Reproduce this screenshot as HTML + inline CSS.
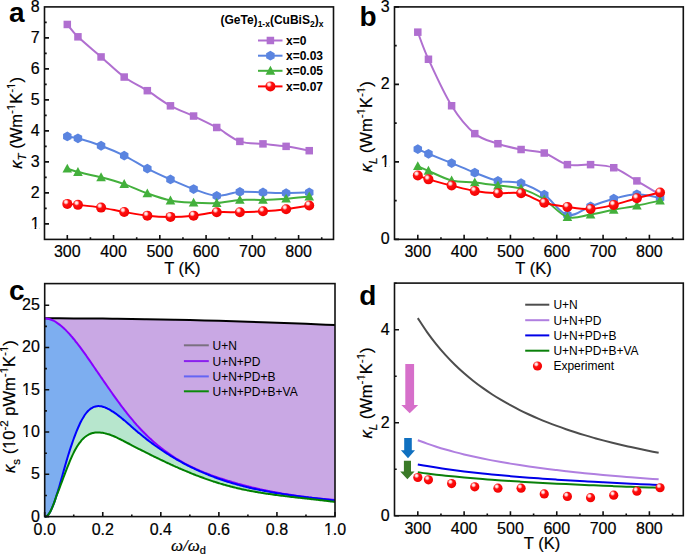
<!DOCTYPE html>
<html><head><meta charset="utf-8"><style>
html,body{margin:0;padding:0;background:#fff;}
svg{display:block;}
text{font-family:"Liberation Sans",sans-serif;fill:#000;}
.h{stroke:#000;stroke-width:0.2px;}
</style></head><body>
<svg width="685" height="555" viewBox="0 0 685 555">
<defs>
<radialGradient id="gball" cx="0.38" cy="0.33" r="0.7" fx="0.36" fy="0.3">
<stop offset="0" stop-color="#ffffff"/>
<stop offset="0.18" stop-color="#ffd0d0"/>
<stop offset="0.4" stop-color="#ff1010"/>
<stop offset="1" stop-color="#f00000"/>
</radialGradient>
</defs>
<rect width="685" height="555" fill="#fff"/>
<g>
<path d="M67.3,239.4 V234.9 M113.56,239.4 V234.9 M159.82,239.4 V234.9 M206.08,239.4 V234.9 M252.34,239.4 V234.9 M298.6,239.4 V234.9 M90.43,239.4 V237.2 M136.69,239.4 V237.2 M182.95,239.4 V237.2 M229.21,239.4 V237.2 M275.47,239.4 V237.2 M321.73,239.4 V237.2 M44.5,223.9 H49 M44.5,192.9 H49 M44.5,161.9 H49 M44.5,130.9 H49 M44.5,99.9 H49 M44.5,68.9 H49 M44.5,37.9 H49 M44.5,208.4 H46.7 M44.5,177.4 H46.7 M44.5,146.4 H46.7 M44.5,115.4 H46.7 M44.5,84.4 H46.7 M44.5,53.4 H46.7 M44.5,22.4 H46.7" stroke="#111" stroke-width="1.6" fill="none"/>
<rect x="44.5" y="6.9" width="289" height="232.5" fill="none" stroke="#111" stroke-width="1.6"/>
<text x="67.3" y="256.9" font-size="16" text-anchor="middle" font-weight="normal"  class="h">300</text>
<text x="113.56" y="256.9" font-size="16" text-anchor="middle" font-weight="normal"  class="h">400</text>
<text x="159.82" y="256.9" font-size="16" text-anchor="middle" font-weight="normal"  class="h">500</text>
<text x="206.08" y="256.9" font-size="16" text-anchor="middle" font-weight="normal"  class="h">600</text>
<text x="252.34" y="256.9" font-size="16" text-anchor="middle" font-weight="normal"  class="h">700</text>
<text x="298.6" y="256.9" font-size="16" text-anchor="middle" font-weight="normal"  class="h">800</text>
<text x="39.6" y="228.9" font-size="16" text-anchor="end" font-weight="normal"  class="h">1</text>
<text x="39.6" y="197.9" font-size="16" text-anchor="end" font-weight="normal"  class="h">2</text>
<text x="39.6" y="166.9" font-size="16" text-anchor="end" font-weight="normal"  class="h">3</text>
<text x="39.6" y="135.9" font-size="16" text-anchor="end" font-weight="normal"  class="h">4</text>
<text x="39.6" y="104.9" font-size="16" text-anchor="end" font-weight="normal"  class="h">5</text>
<text x="39.6" y="73.9" font-size="16" text-anchor="end" font-weight="normal"  class="h">6</text>
<text x="39.6" y="42.9" font-size="16" text-anchor="end" font-weight="normal"  class="h">7</text>
<text x="39.6" y="11.9" font-size="16" text-anchor="end" font-weight="normal"  class="h">8</text>
<path d="M67.3,24.46 C69.07,26.52 72.31,31.42 77.94,36.83 C83.57,42.25 93.36,50.24 101.07,56.94 C108.78,63.65 116.49,71.43 124.2,77.05 C131.91,82.67 139.62,85.87 147.33,90.67 C155.04,95.46 162.75,101.6 170.46,105.83 C178.17,110.06 185.88,112.43 193.59,116.04 C201.3,119.65 209.01,123.26 216.72,127.49 C224.43,131.71 232.14,138.68 239.85,141.41 C247.56,144.14 255.27,143.06 262.98,143.88 C270.69,144.71 278.4,145.22 286.11,146.36 C293.82,147.49 305.38,149.97 309.24,150.69" fill="none" stroke="#b06fd0" stroke-width="2.0" stroke-linejoin="round"/>
<rect x="63.55" y="20.71" width="7.5" height="7.5" fill="#b06fd0"/>
<rect x="74.19" y="33.08" width="7.5" height="7.5" fill="#b06fd0"/>
<rect x="97.32" y="53.19" width="7.5" height="7.5" fill="#b06fd0"/>
<rect x="120.45" y="73.3" width="7.5" height="7.5" fill="#b06fd0"/>
<rect x="143.58" y="86.92" width="7.5" height="7.5" fill="#b06fd0"/>
<rect x="166.71" y="102.08" width="7.5" height="7.5" fill="#b06fd0"/>
<rect x="189.84" y="112.29" width="7.5" height="7.5" fill="#b06fd0"/>
<rect x="212.97" y="123.74" width="7.5" height="7.5" fill="#b06fd0"/>
<rect x="236.1" y="137.66" width="7.5" height="7.5" fill="#b06fd0"/>
<rect x="259.23" y="140.13" width="7.5" height="7.5" fill="#b06fd0"/>
<rect x="282.36" y="142.61" width="7.5" height="7.5" fill="#b06fd0"/>
<rect x="305.49" y="146.94" width="7.5" height="7.5" fill="#b06fd0"/>
<path d="M67.3,136.46 C69.07,136.77 72.31,136.77 77.94,138.31 C83.57,139.86 93.36,142.85 101.07,145.74 C108.78,148.63 116.49,151.83 124.2,155.64 C131.91,159.46 139.62,164.67 147.33,168.64 C155.04,172.61 162.75,176.06 170.46,179.47 C178.17,182.87 185.88,186.32 193.59,189.06 C201.3,191.79 209.01,195.4 216.72,195.86 C224.43,196.33 232.14,192.41 239.85,191.84 C247.56,191.27 255.27,192.25 262.98,192.46 C270.69,192.67 278.4,193.08 286.11,193.08 C293.82,193.08 305.38,192.56 309.24,192.46" fill="none" stroke="#5a84e0" stroke-width="2.0" stroke-linejoin="round"/>
<polygon points="67.3,131.56 71.54,134.01 71.54,138.91 67.3,141.36 63.06,138.91 63.06,134.01" fill="#5a84e0"/>
<polygon points="77.94,133.41 82.18,135.87 82.18,140.76 77.94,143.22 73.7,140.76 73.7,135.87" fill="#5a84e0"/>
<polygon points="101.07,140.84 105.31,143.29 105.31,148.19 101.07,150.64 96.83,148.19 96.83,143.29" fill="#5a84e0"/>
<polygon points="124.2,150.74 128.44,153.19 128.44,158.09 124.2,160.54 119.96,158.09 119.96,153.19" fill="#5a84e0"/>
<polygon points="147.33,163.74 151.57,166.19 151.57,171.09 147.33,173.54 143.09,171.09 143.09,166.19" fill="#5a84e0"/>
<polygon points="170.46,174.57 174.7,177.02 174.7,181.92 170.46,184.37 166.22,181.92 166.22,177.02" fill="#5a84e0"/>
<polygon points="193.59,184.16 197.83,186.61 197.83,191.51 193.59,193.96 189.35,191.51 189.35,186.61" fill="#5a84e0"/>
<polygon points="216.72,190.96 220.96,193.41 220.96,198.31 216.72,200.76 212.48,198.31 212.48,193.41" fill="#5a84e0"/>
<polygon points="239.85,186.94 244.09,189.39 244.09,194.29 239.85,196.74 235.61,194.29 235.61,189.39" fill="#5a84e0"/>
<polygon points="262.98,187.56 267.22,190.01 267.22,194.91 262.98,197.36 258.74,194.91 258.74,190.01" fill="#5a84e0"/>
<polygon points="286.11,188.18 290.35,190.63 290.35,195.53 286.11,197.98 281.87,195.53 281.87,190.63" fill="#5a84e0"/>
<polygon points="309.24,187.56 313.48,190.01 313.48,194.91 309.24,197.36 305,194.91 305,190.01" fill="#5a84e0"/>
<path d="M67.3,168.64 C69.07,169.2 72.31,170.6 77.94,172.04 C83.57,173.48 93.36,175.29 101.07,177.3 C108.78,179.31 116.49,181.42 124.2,184.11 C131.91,186.79 139.62,190.66 147.33,193.39 C155.04,196.12 162.75,198.96 170.46,200.5 C178.17,202.05 185.88,202.26 193.59,202.67 C201.3,203.08 209.01,203.44 216.72,202.98 C224.43,202.52 232.14,200.4 239.85,199.89 C247.56,199.37 255.27,200.09 262.98,199.89 C270.69,199.68 278.4,199.22 286.11,198.65 C293.82,198.08 305.38,196.84 309.24,196.48" fill="none" stroke="#43b03c" stroke-width="2.0" stroke-linejoin="round"/>
<polygon points="67.3,163.64 62.5,172.54 72.1,172.54" fill="#43b03c"/>
<polygon points="77.94,167.04 73.14,175.94 82.74,175.94" fill="#43b03c"/>
<polygon points="101.07,172.3 96.27,181.2 105.87,181.2" fill="#43b03c"/>
<polygon points="124.2,179.11 119.4,188.01 129,188.01" fill="#43b03c"/>
<polygon points="147.33,188.39 142.53,197.29 152.13,197.29" fill="#43b03c"/>
<polygon points="170.46,195.5 165.66,204.4 175.26,204.4" fill="#43b03c"/>
<polygon points="193.59,197.67 188.79,206.57 198.39,206.57" fill="#43b03c"/>
<polygon points="216.72,197.98 211.92,206.88 221.52,206.88" fill="#43b03c"/>
<polygon points="239.85,194.89 235.05,203.79 244.65,203.79" fill="#43b03c"/>
<polygon points="262.98,194.89 258.18,203.79 267.78,203.79" fill="#43b03c"/>
<polygon points="286.11,193.65 281.31,202.55 290.91,202.55" fill="#43b03c"/>
<polygon points="309.24,191.48 304.44,200.38 314.04,200.38" fill="#43b03c"/>
<path d="M67.3,203.91 C69.07,204.06 72.31,204.22 77.94,204.84 C83.57,205.45 93.36,206.43 101.07,207.62 C108.78,208.81 116.49,210.61 124.2,211.95 C131.91,213.29 139.62,214.84 147.33,215.66 C155.04,216.49 162.75,216.9 170.46,216.9 C178.17,216.9 185.88,216.44 193.59,215.66 C201.3,214.89 209.01,212.83 216.72,212.26 C224.43,211.69 232.14,212.42 239.85,212.26 C247.56,212.11 255.27,211.85 262.98,211.33 C270.69,210.82 278.4,210.15 286.11,209.17 C293.82,208.19 305.38,206.07 309.24,205.45" fill="none" stroke="#ff0000" stroke-width="2.0" stroke-linejoin="round"/>
<circle cx="67.3" cy="203.91" r="5" fill="url(#gball)"/>
<circle cx="77.94" cy="204.84" r="5" fill="url(#gball)"/>
<circle cx="101.07" cy="207.62" r="5" fill="url(#gball)"/>
<circle cx="124.2" cy="211.95" r="5" fill="url(#gball)"/>
<circle cx="147.33" cy="215.66" r="5" fill="url(#gball)"/>
<circle cx="170.46" cy="216.9" r="5" fill="url(#gball)"/>
<circle cx="193.59" cy="215.66" r="5" fill="url(#gball)"/>
<circle cx="216.72" cy="212.26" r="5" fill="url(#gball)"/>
<circle cx="239.85" cy="212.26" r="5" fill="url(#gball)"/>
<circle cx="262.98" cy="211.33" r="5" fill="url(#gball)"/>
<circle cx="286.11" cy="209.17" r="5" fill="url(#gball)"/>
<circle cx="309.24" cy="205.45" r="5" fill="url(#gball)"/>
</g>
<path d="M417.8,239.35 V234.85 M464.12,239.35 V234.85 M510.44,239.35 V234.85 M556.76,239.35 V234.85 M603.08,239.35 V234.85 M649.4,239.35 V234.85 M440.96,239.35 V237.15 M487.28,239.35 V237.15 M533.6,239.35 V237.15 M579.92,239.35 V237.15 M626.24,239.35 V237.15 M672.56,239.35 V237.15 M394.5,239.35 H399 M394.5,161.87 H399 M394.5,84.39 H399 M394.5,6.91 H399 M394.5,200.61 H396.7 M394.5,123.13 H396.7 M394.5,45.65 H396.7" stroke="#111" stroke-width="1.6" fill="none"/>
<rect x="394.5" y="6.9" width="288.8" height="232.45" fill="none" stroke="#111" stroke-width="1.6"/>
<text x="417.8" y="256.9" font-size="16" text-anchor="middle" font-weight="normal"  class="h">300</text>
<text x="464.12" y="256.9" font-size="16" text-anchor="middle" font-weight="normal"  class="h">400</text>
<text x="510.44" y="256.9" font-size="16" text-anchor="middle" font-weight="normal"  class="h">500</text>
<text x="556.76" y="256.9" font-size="16" text-anchor="middle" font-weight="normal"  class="h">600</text>
<text x="603.08" y="256.9" font-size="16" text-anchor="middle" font-weight="normal"  class="h">700</text>
<text x="649.4" y="256.9" font-size="16" text-anchor="middle" font-weight="normal"  class="h">800</text>
<text x="389.6" y="244.35" font-size="16" text-anchor="end" font-weight="normal"  class="h">0</text>
<text x="389.6" y="166.87" font-size="16" text-anchor="end" font-weight="normal"  class="h">1</text>
<text x="389.6" y="89.39" font-size="16" text-anchor="end" font-weight="normal"  class="h">2</text>
<text x="389.6" y="11.91" font-size="16" text-anchor="end" font-weight="normal"  class="h">3</text>
<path d="M417.8,32.16 C419.58,36.67 422.82,47 428.45,59.27 C434.09,71.54 443.89,93.36 451.61,105.75 C459.33,118.15 467.05,127.31 474.77,133.64 C482.49,139.97 490.21,141.07 497.93,143.71 C505.65,146.36 513.37,147.97 521.09,149.52 C528.81,151.07 536.53,150.49 544.25,153.01 C551.97,155.53 559.69,162.69 567.41,164.63 C575.13,166.57 582.85,164.11 590.57,164.63 C598.29,165.15 606.01,165.02 613.73,167.73 C621.45,170.44 629.17,176.38 636.89,180.9 C644.61,185.42 656.19,192.52 660.05,194.84" fill="none" stroke="#b06fd0" stroke-width="2.0" stroke-linejoin="round"/>
<rect x="414.05" y="28.41" width="7.5" height="7.5" fill="#b06fd0"/>
<rect x="424.7" y="55.52" width="7.5" height="7.5" fill="#b06fd0"/>
<rect x="447.86" y="102" width="7.5" height="7.5" fill="#b06fd0"/>
<rect x="471.02" y="129.89" width="7.5" height="7.5" fill="#b06fd0"/>
<rect x="494.18" y="139.96" width="7.5" height="7.5" fill="#b06fd0"/>
<rect x="517.34" y="145.77" width="7.5" height="7.5" fill="#b06fd0"/>
<rect x="540.5" y="149.26" width="7.5" height="7.5" fill="#b06fd0"/>
<rect x="563.66" y="160.88" width="7.5" height="7.5" fill="#b06fd0"/>
<rect x="586.82" y="160.88" width="7.5" height="7.5" fill="#b06fd0"/>
<rect x="609.98" y="163.98" width="7.5" height="7.5" fill="#b06fd0"/>
<rect x="633.14" y="177.15" width="7.5" height="7.5" fill="#b06fd0"/>
<rect x="656.3" y="191.09" width="7.5" height="7.5" fill="#b06fd0"/>
<path d="M417.8,149.13 C419.58,149.91 422.82,151.46 428.45,153.78 C434.09,156.11 443.89,159.93 451.61,163.08 C459.33,166.23 467.05,169.72 474.77,172.69 C482.49,175.66 490.21,179.14 497.93,180.9 C505.65,182.65 513.37,180.94 521.09,183.22 C528.81,185.51 536.53,189.32 544.25,194.61 C551.97,199.9 559.69,213.01 567.41,214.98 C575.13,216.96 582.85,209.17 590.57,206.46 C598.29,203.75 606.01,200.74 613.73,198.72 C621.45,196.69 629.17,194.43 636.89,194.3 C644.61,194.17 656.19,197.33 660.05,197.94" fill="none" stroke="#5a84e0" stroke-width="2.0" stroke-linejoin="round"/>
<polygon points="417.8,144.23 422.04,146.68 422.04,151.58 417.8,154.03 413.56,151.58 413.56,146.68" fill="#5a84e0"/>
<polygon points="428.45,148.88 432.7,151.33 432.7,156.23 428.45,158.68 424.21,156.23 424.21,151.33" fill="#5a84e0"/>
<polygon points="451.61,158.18 455.86,160.63 455.86,165.53 451.61,167.98 447.37,165.53 447.37,160.63" fill="#5a84e0"/>
<polygon points="474.77,167.79 479.02,170.24 479.02,175.14 474.77,177.59 470.53,175.14 470.53,170.24" fill="#5a84e0"/>
<polygon points="497.93,176 502.18,178.45 502.18,183.35 497.93,185.8 493.69,183.35 493.69,178.45" fill="#5a84e0"/>
<polygon points="521.09,178.32 525.34,180.77 525.34,185.67 521.09,188.12 516.85,185.67 516.85,180.77" fill="#5a84e0"/>
<polygon points="544.25,189.71 548.5,192.16 548.5,197.06 544.25,199.51 540.01,197.06 540.01,192.16" fill="#5a84e0"/>
<polygon points="567.41,210.08 571.66,212.53 571.66,217.43 567.41,219.88 563.17,217.43 563.17,212.53" fill="#5a84e0"/>
<polygon points="590.57,201.56 594.82,204.01 594.82,208.91 590.57,211.36 586.33,208.91 586.33,204.01" fill="#5a84e0"/>
<polygon points="613.73,193.82 617.98,196.27 617.98,201.17 613.73,203.62 609.49,201.17 609.49,196.27" fill="#5a84e0"/>
<polygon points="636.89,189.4 641.14,191.85 641.14,196.75 636.89,199.2 632.65,196.75 632.65,191.85" fill="#5a84e0"/>
<polygon points="660.05,193.04 664.3,195.49 664.3,200.39 660.05,202.84 655.81,200.39 655.81,195.49" fill="#5a84e0"/>
<path d="M417.8,166.18 C419.58,166.95 422.82,168.45 428.45,170.83 C434.09,173.2 443.89,178.5 451.61,180.43 C459.33,182.37 467.05,181.59 474.77,182.45 C482.49,183.3 490.21,184.51 497.93,185.55 C505.65,186.58 513.37,186.32 521.09,188.64 C528.81,190.97 536.53,194.75 544.25,199.49 C551.97,204.23 559.69,214.57 567.41,217.08 C575.13,219.58 582.85,215.73 590.57,214.52 C598.29,213.31 606.01,211.27 613.73,209.79 C621.45,208.32 629.17,207.21 636.89,205.69 C644.61,204.16 656.19,201.49 660.05,200.65" fill="none" stroke="#43b03c" stroke-width="2.0" stroke-linejoin="round"/>
<polygon points="417.8,161.18 413,170.08 422.6,170.08" fill="#43b03c"/>
<polygon points="428.45,165.83 423.65,174.73 433.25,174.73" fill="#43b03c"/>
<polygon points="451.61,175.43 446.81,184.33 456.41,184.33" fill="#43b03c"/>
<polygon points="474.77,177.45 469.97,186.35 479.57,186.35" fill="#43b03c"/>
<polygon points="497.93,180.55 493.13,189.45 502.73,189.45" fill="#43b03c"/>
<polygon points="521.09,183.64 516.29,192.54 525.89,192.54" fill="#43b03c"/>
<polygon points="544.25,194.49 539.45,203.39 549.05,203.39" fill="#43b03c"/>
<polygon points="567.41,212.08 562.61,220.98 572.21,220.98" fill="#43b03c"/>
<polygon points="590.57,209.52 585.77,218.42 595.37,218.42" fill="#43b03c"/>
<polygon points="613.73,204.79 608.93,213.69 618.53,213.69" fill="#43b03c"/>
<polygon points="636.89,200.69 632.09,209.59 641.69,209.59" fill="#43b03c"/>
<polygon points="660.05,195.65 655.25,204.55 664.85,204.55" fill="#43b03c"/>
<path d="M417.8,175.47 C419.58,176.12 422.82,177.67 428.45,179.35 C434.09,181.03 443.89,183.61 451.61,185.55 C459.33,187.48 467.05,189.68 474.77,190.97 C482.49,192.26 490.21,192.91 497.93,193.29 C505.65,193.68 513.37,191.7 521.09,193.29 C528.81,194.88 536.53,200.55 544.25,202.82 C551.97,205.09 559.69,205.89 567.41,206.93 C575.13,207.96 582.85,209.35 590.57,209.02 C598.29,208.68 606.01,206.72 613.73,204.91 C621.45,203.11 629.17,200.24 636.89,198.17 C644.61,196.11 656.19,193.46 660.05,192.52" fill="none" stroke="#ff0000" stroke-width="2.0" stroke-linejoin="round"/>
<circle cx="417.8" cy="175.47" r="5" fill="url(#gball)"/>
<circle cx="428.45" cy="179.35" r="5" fill="url(#gball)"/>
<circle cx="451.61" cy="185.55" r="5" fill="url(#gball)"/>
<circle cx="474.77" cy="190.97" r="5" fill="url(#gball)"/>
<circle cx="497.93" cy="193.29" r="5" fill="url(#gball)"/>
<circle cx="521.09" cy="193.29" r="5" fill="url(#gball)"/>
<circle cx="544.25" cy="202.82" r="5" fill="url(#gball)"/>
<circle cx="567.41" cy="206.93" r="5" fill="url(#gball)"/>
<circle cx="590.57" cy="209.02" r="5" fill="url(#gball)"/>
<circle cx="613.73" cy="204.91" r="5" fill="url(#gball)"/>
<circle cx="636.89" cy="198.17" r="5" fill="url(#gball)"/>
<circle cx="660.05" cy="192.52" r="5" fill="url(#gball)"/>
<path d="M44.7,318.31 C47.12,318.31 54.38,318.31 59.22,318.32 C64.05,318.34 68.89,318.35 73.73,318.38 C78.57,318.4 83.41,318.43 88.25,318.46 C93.08,318.5 97.92,318.54 102.76,318.59 C107.6,318.63 112.44,318.69 117.28,318.74 C122.11,318.8 126.95,318.87 131.79,318.93 C136.63,319 141.47,319.08 146.31,319.16 C151.14,319.24 155.98,319.33 160.82,319.42 C165.66,319.51 170.5,319.61 175.34,319.71 C180.17,319.82 185.01,319.93 189.85,320.04 C194.69,320.16 199.53,320.28 204.37,320.4 C209.2,320.53 214.04,320.66 218.88,320.8 C223.72,320.93 228.56,321.07 233.4,321.22 C238.23,321.37 243.07,321.52 247.91,321.68 C252.75,321.84 257.59,322 262.43,322.17 C267.26,322.34 272.1,322.51 276.94,322.69 C281.78,322.87 286.62,323.05 291.45,323.24 C296.29,323.43 301.13,323.62 305.97,323.82 C310.81,324.02 315.65,324.22 320.49,324.43 C325.32,324.64 332.58,324.96 335,325.07 L335,516.6 L44.7,516.6 Z" fill="#c9a8e4"/>
<path d="M44.7,318.3 C44.94,318.32 45.67,318.36 46.15,318.42 C46.64,318.48 47.12,318.56 47.6,318.66 C48.09,318.76 48.57,318.88 49.05,319.01 C49.54,319.15 50.02,319.3 50.51,319.48 C50.99,319.65 51.47,319.84 51.96,320.04 C52.44,320.25 52.93,320.48 53.41,320.72 C53.89,320.96 54.38,321.22 54.86,321.49 C55.34,321.76 55.83,322.06 56.31,322.36 C56.8,322.67 57.28,322.99 57.76,323.32 C58.25,323.66 58.73,324.01 59.22,324.37 C59.7,324.74 60.18,325.12 60.67,325.51 C61.15,325.9 61.63,326.31 62.12,326.73 C62.6,327.15 63.09,327.58 63.57,328.03 C64.05,328.47 64.54,328.93 65.02,329.4 C65.5,329.87 65.99,330.35 66.47,330.84 C66.96,331.33 67.44,331.84 67.92,332.35 C68.41,332.87 68.89,333.39 69.38,333.93 C69.86,334.46 70.34,335.01 70.83,335.56 C71.31,336.11 71.79,336.68 72.28,337.25 C72.76,337.82 73.25,338.41 73.73,339 C74.21,339.59 74.7,340.18 75.18,340.79 C75.67,341.4 76.15,342.01 76.63,342.63 C77.12,343.25 77.6,343.88 78.08,344.51 C78.57,345.15 79.05,345.79 79.54,346.44 C80.02,347.08 80.5,347.73 80.99,348.39 C81.47,349.05 81.96,349.71 82.44,350.38 C82.92,351.05 83.41,351.72 83.89,352.4 C84.37,353.07 84.86,353.75 85.34,354.44 C85.83,355.12 86.31,355.81 86.79,356.5 C87.28,357.19 87.76,357.88 88.25,358.58 C88.73,359.27 89.21,359.97 89.7,360.67 C90.18,361.37 90.66,362.07 91.15,362.77 C91.63,363.48 92.12,364.18 92.6,364.88 C93.08,365.59 93.57,366.29 94.05,367 C94.53,367.7 95.02,368.41 95.5,369.12 C95.99,369.82 96.47,370.53 96.95,371.24 C97.44,371.95 97.92,372.65 98.41,373.36 C98.89,374.07 99.37,374.77 99.86,375.48 C100.34,376.19 100.82,376.9 101.31,377.6 C101.79,378.31 102.28,379.01 102.76,379.72 C103.24,380.42 103.73,381.13 104.21,381.83 C104.7,382.53 105.18,383.23 105.66,383.93 C106.15,384.63 106.63,385.33 107.11,386.03 C107.6,386.73 108.08,387.43 108.57,388.12 C109.05,388.81 109.53,389.51 110.02,390.2 C110.5,390.89 110.99,391.58 111.47,392.27 C111.95,392.95 112.44,393.64 112.92,394.32 C113.4,395 113.89,395.68 114.37,396.36 C114.86,397.04 115.34,397.71 115.82,398.38 C116.31,399.05 116.79,399.72 117.28,400.39 C117.76,401.05 118.24,401.72 118.73,402.38 C119.21,403.03 119.69,403.69 120.18,404.34 C120.66,404.99 121.15,405.64 121.63,406.29 C122.11,406.93 122.6,407.57 123.08,408.21 C123.56,408.85 124.05,409.48 124.53,410.11 C125.02,410.74 125.5,411.36 125.98,411.98 C126.47,412.6 126.95,413.22 127.44,413.83 C127.92,414.44 128.4,415.05 128.89,415.65 C129.37,416.25 129.85,416.84 130.34,417.43 C130.82,418.03 131.31,418.61 131.79,419.19 C132.27,419.77 132.76,420.35 133.24,420.91 C133.73,421.48 134.21,422.05 134.69,422.6 C135.18,423.16 135.66,423.71 136.14,424.26 C136.63,424.81 137.11,425.35 137.6,425.88 C138.08,426.42 138.56,426.95 139.05,427.48 C139.53,428 140.02,428.52 140.5,429.03 C140.98,429.55 141.47,430.06 141.95,430.56 C142.43,431.07 142.92,431.56 143.4,432.06 C143.89,432.55 144.37,433.04 144.85,433.52 C145.34,434.01 145.82,434.48 146.31,434.96 C146.79,435.43 147.27,435.9 147.76,436.36 C148.24,436.83 148.72,437.29 149.21,437.74 C149.69,438.19 150.18,438.64 150.66,439.09 C151.14,439.53 151.63,439.97 152.11,440.4 C152.59,440.84 153.08,441.27 153.56,441.69 C154.05,442.12 154.53,442.54 155.01,442.96 C155.5,443.37 155.98,443.78 156.47,444.19 C156.95,444.6 157.43,445 157.92,445.4 C158.4,445.8 158.88,446.19 159.37,446.58 C159.85,446.97 160.34,447.36 160.82,447.74 C161.3,448.12 161.79,448.5 162.27,448.87 C162.76,449.24 163.24,449.61 163.72,449.97 C164.21,450.34 164.69,450.7 165.17,451.06 C165.66,451.41 166.14,451.76 166.63,452.11 C167.11,452.46 167.59,452.81 168.08,453.15 C168.56,453.49 169.05,453.82 169.53,454.16 C170.01,454.49 170.5,454.82 170.98,455.14 C171.46,455.47 171.95,455.79 172.43,456.11 C172.92,456.43 173.4,456.74 173.88,457.05 C174.37,457.36 174.85,457.67 175.34,457.97 C175.82,458.28 176.3,458.58 176.79,458.88 C177.27,459.17 177.75,459.47 178.24,459.76 C178.72,460.05 179.21,460.33 179.69,460.62 C180.17,460.9 180.66,461.18 181.14,461.46 C181.62,461.73 182.11,462.01 182.59,462.28 C183.08,462.55 183.56,462.82 184.04,463.08 C184.53,463.35 185.01,463.61 185.5,463.86 C185.98,464.12 186.46,464.38 186.95,464.63 C187.43,464.88 187.91,465.13 188.4,465.38 C188.88,465.63 189.37,465.87 189.85,466.11 C190.33,466.35 190.82,466.59 191.3,466.83 C191.79,467.06 192.27,467.3 192.75,467.53 C193.24,467.76 193.72,467.99 194.2,468.21 C194.69,468.44 195.17,468.66 195.66,468.88 C196.14,469.1 196.62,469.32 197.11,469.53 C197.59,469.75 198.08,469.96 198.56,470.17 C199.04,470.38 199.53,470.59 200.01,470.8 C200.49,471 200.98,471.21 201.46,471.41 C201.95,471.61 202.43,471.81 202.91,472.01 C203.4,472.21 203.88,472.4 204.37,472.6 C204.85,472.79 205.33,472.98 205.82,473.17 C206.3,473.36 206.78,473.55 207.27,473.73 C207.75,473.92 208.24,474.1 208.72,474.29 C209.2,474.47 209.69,474.65 210.17,474.83 C210.65,475.01 211.14,475.18 211.62,475.36 C212.11,475.53 212.59,475.71 213.07,475.88 C213.56,476.05 214.04,476.22 214.53,476.39 C215.01,476.56 215.49,476.73 215.98,476.89 C216.46,477.06 216.94,477.22 217.43,477.39 C217.91,477.55 218.4,477.71 218.88,477.87 C219.36,478.03 219.85,478.19 220.33,478.35 C220.82,478.51 221.3,478.67 221.78,478.82 C222.27,478.98 222.75,479.13 223.23,479.29 C223.72,479.44 224.2,479.59 224.69,479.74 C225.17,479.89 225.65,480.05 226.14,480.2 C226.62,480.34 227.11,480.49 227.59,480.64 C228.07,480.79 228.56,480.94 229.04,481.08 C229.52,481.23 230.01,481.37 230.49,481.52 C230.98,481.66 231.46,481.8 231.94,481.95 C232.43,482.09 232.91,482.23 233.4,482.37 C233.88,482.51 234.36,482.65 234.85,482.79 C235.33,482.92 235.81,483.06 236.3,483.2 C236.78,483.33 237.27,483.47 237.75,483.6 C238.23,483.74 238.72,483.87 239.2,484 C239.68,484.14 240.17,484.27 240.65,484.4 C241.14,484.53 241.62,484.66 242.1,484.79 C242.59,484.92 243.07,485.05 243.56,485.17 C244.04,485.3 244.52,485.43 245.01,485.55 C245.49,485.68 245.97,485.8 246.46,485.93 C246.94,486.05 247.43,486.17 247.91,486.29 C248.39,486.42 248.88,486.54 249.36,486.66 C249.85,486.78 250.33,486.9 250.81,487.02 C251.3,487.13 251.78,487.25 252.26,487.37 C252.75,487.48 253.23,487.6 253.72,487.72 C254.2,487.83 254.68,487.94 255.17,488.06 C255.65,488.17 256.14,488.28 256.62,488.39 C257.1,488.51 257.59,488.62 258.07,488.73 C258.55,488.84 259.04,488.94 259.52,489.05 C260.01,489.16 260.49,489.27 260.97,489.37 C261.46,489.48 261.94,489.59 262.43,489.69 C262.91,489.8 263.39,489.9 263.88,490 C264.36,490.11 264.84,490.21 265.33,490.31 C265.81,490.41 266.3,490.51 266.78,490.61 C267.26,490.71 267.75,490.81 268.23,490.91 C268.71,491.01 269.2,491.1 269.68,491.2 C270.17,491.3 270.65,491.39 271.13,491.49 C271.62,491.58 272.1,491.68 272.59,491.77 C273.07,491.87 273.55,491.96 274.04,492.05 C274.52,492.14 275,492.23 275.49,492.32 C275.97,492.41 276.46,492.5 276.94,492.59 C277.42,492.68 277.91,492.77 278.39,492.86 C278.88,492.94 279.36,493.03 279.84,493.12 C280.33,493.2 280.81,493.29 281.29,493.37 C281.78,493.46 282.26,493.54 282.75,493.62 C283.23,493.7 283.71,493.79 284.2,493.87 C284.68,493.95 285.17,494.03 285.65,494.11 C286.13,494.19 286.62,494.27 287.1,494.35 C287.58,494.42 288.07,494.5 288.55,494.58 C289.04,494.66 289.52,494.73 290,494.81 C290.49,494.88 290.97,494.96 291.45,495.03 C291.94,495.11 292.42,495.18 292.91,495.25 C293.39,495.33 293.87,495.4 294.36,495.47 C294.84,495.54 295.33,495.61 295.81,495.68 C296.29,495.75 296.78,495.82 297.26,495.89 C297.74,495.96 298.23,496.02 298.71,496.09 C299.2,496.16 299.68,496.22 300.16,496.29 C300.65,496.36 301.13,496.42 301.62,496.49 C302.1,496.55 302.58,496.61 303.07,496.68 C303.55,496.74 304.03,496.8 304.52,496.86 C305,496.93 305.49,496.99 305.97,497.05 C306.45,497.11 306.94,497.17 307.42,497.23 C307.91,497.29 308.39,497.34 308.87,497.4 C309.36,497.46 309.84,497.52 310.32,497.57 C310.81,497.63 311.29,497.69 311.78,497.74 C312.26,497.8 312.74,497.85 313.23,497.91 C313.71,497.96 314.2,498.01 314.68,498.07 C315.16,498.12 315.65,498.17 316.13,498.22 C316.61,498.28 317.1,498.33 317.58,498.38 C318.07,498.43 318.55,498.48 319.03,498.53 C319.52,498.58 320,498.62 320.49,498.67 C320.97,498.72 321.45,498.77 321.94,498.81 C322.42,498.86 322.9,498.91 323.39,498.95 C323.87,499 324.36,499.04 324.84,499.09 C325.32,499.13 325.81,499.18 326.29,499.22 C326.77,499.26 327.26,499.31 327.74,499.35 C328.23,499.39 328.71,499.43 329.19,499.47 C329.68,499.51 330.16,499.56 330.65,499.6 C331.13,499.64 331.61,499.68 332.1,499.71 C332.58,499.75 333.06,499.79 333.55,499.83 C334.03,499.87 334.76,499.92 335,499.94 L335,516.6 L44.7,516.6 Z" fill="#7daef0"/>
<path d="M44.7,516.6 C44.94,516.57 45.67,516.6 46.15,516.4 C46.64,516.2 47.12,515.85 47.6,515.39 C48.09,514.92 48.57,514.33 49.05,513.63 C49.54,512.94 50.02,512.12 50.51,511.21 C50.99,510.3 51.47,509.28 51.96,508.19 C52.44,507.1 52.93,505.9 53.41,504.65 C53.89,503.39 54.38,502.05 54.86,500.65 C55.34,499.26 55.83,497.79 56.31,496.28 C56.8,494.77 57.28,493.2 57.76,491.6 C58.25,490 58.73,488.35 59.22,486.69 C59.7,485.02 60.18,483.32 60.67,481.61 C61.15,479.9 61.63,478.17 62.12,476.45 C62.6,474.72 63.09,472.98 63.57,471.27 C64.05,469.55 64.54,467.83 65.02,466.14 C65.5,464.46 65.99,462.78 66.47,461.14 C66.96,459.5 67.44,457.89 67.92,456.3 C68.41,454.72 68.89,453.16 69.38,451.63 C69.86,450.11 70.34,448.61 70.83,447.14 C71.31,445.68 71.79,444.24 72.28,442.84 C72.76,441.44 73.25,440.07 73.73,438.74 C74.21,437.41 74.7,436.11 75.18,434.85 C75.67,433.59 76.15,432.36 76.63,431.17 C77.12,429.99 77.6,428.84 78.08,427.73 C78.57,426.62 79.05,425.55 79.54,424.52 C80.02,423.5 80.5,422.51 80.99,421.57 C81.47,420.63 81.96,419.72 82.44,418.87 C82.92,418.02 83.41,417.2 83.89,416.44 C84.37,415.68 84.86,414.96 85.34,414.29 C85.83,413.62 86.31,413 86.79,412.42 C87.28,411.85 87.76,411.32 88.25,410.83 C88.73,410.34 89.21,409.89 89.7,409.49 C90.18,409.08 90.66,408.72 91.15,408.39 C91.63,408.06 92.12,407.78 92.6,407.52 C93.08,407.27 93.57,407.05 94.05,406.87 C94.53,406.69 95.02,406.54 95.5,406.42 C95.99,406.3 96.47,406.21 96.95,406.16 C97.44,406.1 97.92,406.07 98.41,406.07 C98.89,406.06 99.37,406.09 99.86,406.13 C100.34,406.18 100.82,406.26 101.31,406.35 C101.79,406.44 102.28,406.56 102.76,406.7 C103.24,406.83 103.73,406.99 104.21,407.16 C104.7,407.33 105.18,407.52 105.66,407.73 C106.15,407.93 106.63,408.15 107.11,408.38 C107.6,408.62 108.08,408.86 108.57,409.12 C109.05,409.37 109.53,409.64 110.02,409.92 C110.5,410.19 110.99,410.48 111.47,410.78 C111.95,411.07 112.44,411.38 112.92,411.7 C113.4,412.01 113.89,412.34 114.37,412.67 C114.86,413 115.34,413.34 115.82,413.69 C116.31,414.03 116.79,414.39 117.28,414.75 C117.76,415.11 118.24,415.48 118.73,415.85 C119.21,416.23 119.69,416.61 120.18,416.99 C120.66,417.38 121.15,417.77 121.63,418.16 C122.11,418.56 122.6,418.96 123.08,419.36 C123.56,419.76 124.05,420.17 124.53,420.58 C125.02,420.99 125.5,421.4 125.98,421.82 C126.47,422.24 126.95,422.65 127.44,423.07 C127.92,423.49 128.4,423.92 128.89,424.34 C129.37,424.76 129.85,425.18 130.34,425.61 C130.82,426.03 131.31,426.46 131.79,426.88 C132.27,427.3 132.76,427.73 133.24,428.15 C133.73,428.57 134.21,428.99 134.69,429.41 C135.18,429.83 135.66,430.24 136.14,430.66 C136.63,431.07 137.11,431.48 137.6,431.89 C138.08,432.3 138.56,432.71 139.05,433.11 C139.53,433.52 140.02,433.92 140.5,434.31 C140.98,434.71 141.47,435.11 141.95,435.5 C142.43,435.89 142.92,436.28 143.4,436.67 C143.89,437.06 144.37,437.45 144.85,437.83 C145.34,438.21 145.82,438.59 146.31,438.97 C146.79,439.34 147.27,439.72 147.76,440.09 C148.24,440.46 148.72,440.83 149.21,441.2 C149.69,441.57 150.18,441.93 150.66,442.29 C151.14,442.66 151.63,443.02 152.11,443.37 C152.59,443.73 153.08,444.08 153.56,444.44 C154.05,444.79 154.53,445.14 155.01,445.48 C155.5,445.83 155.98,446.18 156.47,446.52 C156.95,446.86 157.43,447.2 157.92,447.54 C158.4,447.87 158.88,448.21 159.37,448.54 C159.85,448.87 160.34,449.21 160.82,449.53 C161.3,449.86 161.79,450.19 162.27,450.51 C162.76,450.83 163.24,451.15 163.72,451.47 C164.21,451.79 164.69,452.11 165.17,452.42 C165.66,452.73 166.14,453.04 166.63,453.35 C167.11,453.66 167.59,453.97 168.08,454.27 C168.56,454.58 169.05,454.88 169.53,455.18 C170.01,455.48 170.5,455.78 170.98,456.07 C171.46,456.37 171.95,456.66 172.43,456.95 C172.92,457.25 173.4,457.53 173.88,457.82 C174.37,458.11 174.85,458.39 175.34,458.68 C175.82,458.96 176.3,459.24 176.79,459.52 C177.27,459.79 177.75,460.07 178.24,460.34 C178.72,460.62 179.21,460.89 179.69,461.16 C180.17,461.43 180.66,461.7 181.14,461.96 C181.62,462.23 182.11,462.49 182.59,462.75 C183.08,463.01 183.56,463.27 184.04,463.53 C184.53,463.79 185.01,464.04 185.5,464.29 C185.98,464.55 186.46,464.8 186.95,465.05 C187.43,465.3 187.91,465.54 188.4,465.79 C188.88,466.03 189.37,466.28 189.85,466.52 C190.33,466.76 190.82,467 191.3,467.23 C191.79,467.47 192.27,467.71 192.75,467.94 C193.24,468.17 193.72,468.4 194.2,468.63 C194.69,468.86 195.17,469.09 195.66,469.32 C196.14,469.54 196.62,469.77 197.11,469.99 C197.59,470.21 198.08,470.43 198.56,470.65 C199.04,470.87 199.53,471.08 200.01,471.3 C200.49,471.51 200.98,471.73 201.46,471.94 C201.95,472.15 202.43,472.36 202.91,472.56 C203.4,472.77 203.88,472.98 204.37,473.18 C204.85,473.38 205.33,473.59 205.82,473.79 C206.3,473.99 206.78,474.19 207.27,474.38 C207.75,474.58 208.24,474.77 208.72,474.97 C209.2,475.16 209.69,475.35 210.17,475.54 C210.65,475.73 211.14,475.92 211.62,476.11 C212.11,476.3 212.59,476.48 213.07,476.66 C213.56,476.85 214.04,477.03 214.53,477.21 C215.01,477.39 215.49,477.57 215.98,477.75 C216.46,477.92 216.94,478.1 217.43,478.27 C217.91,478.45 218.4,478.62 218.88,478.79 C219.36,478.96 219.85,479.13 220.33,479.3 C220.82,479.47 221.3,479.63 221.78,479.8 C222.27,479.96 222.75,480.12 223.23,480.29 C223.72,480.45 224.2,480.61 224.69,480.77 C225.17,480.92 225.65,481.08 226.14,481.24 C226.62,481.39 227.11,481.55 227.59,481.7 C228.07,481.85 228.56,482 229.04,482.15 C229.52,482.3 230.01,482.45 230.49,482.6 C230.98,482.75 231.46,482.89 231.94,483.04 C232.43,483.18 232.91,483.33 233.4,483.47 C233.88,483.61 234.36,483.75 234.85,483.89 C235.33,484.03 235.81,484.17 236.3,484.3 C236.78,484.44 237.27,484.57 237.75,484.71 C238.23,484.84 238.72,484.97 239.2,485.1 C239.68,485.24 240.17,485.37 240.65,485.49 C241.14,485.62 241.62,485.75 242.1,485.88 C242.59,486 243.07,486.13 243.56,486.25 C244.04,486.38 244.52,486.5 245.01,486.62 C245.49,486.74 245.97,486.86 246.46,486.98 C246.94,487.1 247.43,487.22 247.91,487.34 C248.39,487.45 248.88,487.57 249.36,487.68 C249.85,487.8 250.33,487.91 250.81,488.02 C251.3,488.14 251.78,488.25 252.26,488.36 C252.75,488.47 253.23,488.58 253.72,488.68 C254.2,488.79 254.68,488.9 255.17,489.01 C255.65,489.11 256.14,489.22 256.62,489.32 C257.1,489.42 257.59,489.53 258.07,489.63 C258.55,489.73 259.04,489.83 259.52,489.93 C260.01,490.03 260.49,490.13 260.97,490.23 C261.46,490.33 261.94,490.42 262.43,490.52 C262.91,490.61 263.39,490.71 263.88,490.8 C264.36,490.9 264.84,490.99 265.33,491.08 C265.81,491.18 266.3,491.27 266.78,491.36 C267.26,491.45 267.75,491.54 268.23,491.63 C268.71,491.72 269.2,491.8 269.68,491.89 C270.17,491.98 270.65,492.06 271.13,492.15 C271.62,492.24 272.1,492.32 272.59,492.4 C273.07,492.49 273.55,492.57 274.04,492.65 C274.52,492.74 275,492.82 275.49,492.9 C275.97,492.98 276.46,493.06 276.94,493.14 C277.42,493.22 277.91,493.3 278.39,493.37 C278.88,493.45 279.36,493.53 279.84,493.61 C280.33,493.68 280.81,493.76 281.29,493.83 C281.78,493.91 282.26,493.98 282.75,494.06 C283.23,494.13 283.71,494.2 284.2,494.28 C284.68,494.35 285.17,494.42 285.65,494.49 C286.13,494.56 286.62,494.63 287.1,494.7 C287.58,494.77 288.07,494.84 288.55,494.91 C289.04,494.98 289.52,495.05 290,495.12 C290.49,495.18 290.97,495.25 291.45,495.32 C291.94,495.39 292.42,495.45 292.91,495.52 C293.39,495.58 293.87,495.65 294.36,495.71 C294.84,495.78 295.33,495.84 295.81,495.91 C296.29,495.97 296.78,496.03 297.26,496.1 C297.74,496.16 298.23,496.22 298.71,496.28 C299.2,496.34 299.68,496.41 300.16,496.47 C300.65,496.53 301.13,496.59 301.62,496.65 C302.1,496.71 302.58,496.77 303.07,496.83 C303.55,496.89 304.03,496.95 304.52,497.01 C305,497.07 305.49,497.12 305.97,497.18 C306.45,497.24 306.94,497.3 307.42,497.36 C307.91,497.41 308.39,497.47 308.87,497.53 C309.36,497.58 309.84,497.64 310.32,497.7 C310.81,497.75 311.29,497.81 311.78,497.87 C312.26,497.92 312.74,497.98 313.23,498.03 C313.71,498.09 314.2,498.14 314.68,498.2 C315.16,498.25 315.65,498.31 316.13,498.36 C316.61,498.42 317.1,498.47 317.58,498.53 C318.07,498.58 318.55,498.64 319.03,498.69 C319.52,498.74 320,498.8 320.49,498.85 C320.97,498.9 321.45,498.96 321.94,499.01 C322.42,499.07 322.9,499.12 323.39,499.17 C323.87,499.23 324.36,499.28 324.84,499.33 C325.32,499.39 325.81,499.44 326.29,499.49 C326.77,499.55 327.26,499.6 327.74,499.65 C328.23,499.7 328.71,499.76 329.19,499.81 C329.68,499.86 330.16,499.92 330.65,499.97 C331.13,500.02 331.61,500.08 332.1,500.13 C332.58,500.18 333.06,500.24 333.55,500.29 C334.03,500.34 334.76,500.42 335,500.45 L335,516.6 L44.7,516.6 Z" fill="#b7e6cd"/>
<path d="M44.7,516.6 C44.94,516.57 45.67,516.6 46.15,516.4 C46.64,516.2 47.12,515.85 47.6,515.39 C48.09,514.92 48.57,514.33 49.05,513.63 C49.54,512.94 50.02,512.12 50.51,511.21 C50.99,510.3 51.47,509.28 51.96,508.19 C52.44,507.1 52.93,505.9 53.41,504.65 C53.89,503.39 54.38,502.05 54.86,500.65 C55.34,499.26 55.83,497.62 56.31,496.28 C56.8,494.93 57.28,493.83 57.76,492.59 C58.25,491.35 58.73,490.08 59.22,488.81 C59.7,487.54 60.18,486.26 60.67,484.98 C61.15,483.69 61.63,482.4 62.12,481.11 C62.6,479.82 63.09,478.53 63.57,477.24 C64.05,475.96 64.54,474.67 65.02,473.4 C65.5,472.13 65.99,470.87 66.47,469.62 C66.96,468.38 67.44,467.14 67.92,465.93 C68.41,464.72 68.89,463.52 69.38,462.36 C69.86,461.19 70.34,460.04 70.83,458.93 C71.31,457.82 71.79,456.73 72.28,455.68 C72.76,454.63 73.25,453.61 73.73,452.63 C74.21,451.66 74.7,450.72 75.18,449.82 C75.67,448.93 76.15,448.08 76.63,447.27 C77.12,446.46 77.6,445.69 78.08,444.97 C78.57,444.24 79.05,443.55 79.54,442.9 C80.02,442.24 80.5,441.63 80.99,441.05 C81.47,440.47 81.96,439.93 82.44,439.42 C82.92,438.91 83.41,438.44 83.89,438 C84.37,437.55 84.86,437.14 85.34,436.76 C85.83,436.38 86.31,436.03 86.79,435.71 C87.28,435.39 87.76,435.09 88.25,434.82 C88.73,434.56 89.21,434.32 89.7,434.1 C90.18,433.88 90.66,433.69 91.15,433.52 C91.63,433.35 92.12,433.2 92.6,433.08 C93.08,432.95 93.57,432.85 94.05,432.76 C94.53,432.67 95.02,432.61 95.5,432.55 C95.99,432.5 96.47,432.47 96.95,432.45 C97.44,432.43 97.92,432.43 98.41,432.44 C98.89,432.45 99.37,432.47 99.86,432.51 C100.34,432.54 100.82,432.59 101.31,432.65 C101.79,432.71 102.28,432.78 102.76,432.86 C103.24,432.94 103.73,433.03 104.21,433.13 C104.7,433.24 105.18,433.35 105.66,433.47 C106.15,433.59 106.63,433.72 107.11,433.86 C107.6,434 108.08,434.15 108.57,434.3 C109.05,434.46 109.53,434.62 110.02,434.8 C110.5,434.97 110.99,435.15 111.47,435.33 C111.95,435.52 112.44,435.71 112.92,435.91 C113.4,436.11 113.89,436.31 114.37,436.52 C114.86,436.73 115.34,436.95 115.82,437.17 C116.31,437.39 116.79,437.61 117.28,437.84 C117.76,438.07 118.24,438.3 118.73,438.54 C119.21,438.77 119.69,439.01 120.18,439.25 C120.66,439.5 121.15,439.74 121.63,439.99 C122.11,440.24 122.6,440.48 123.08,440.73 C123.56,440.98 124.05,441.24 124.53,441.49 C125.02,441.74 125.5,442 125.98,442.25 C126.47,442.5 126.95,442.75 127.44,443.01 C127.92,443.26 128.4,443.51 128.89,443.76 C129.37,444.02 129.85,444.27 130.34,444.52 C130.82,444.77 131.31,445.02 131.79,445.27 C132.27,445.53 132.76,445.78 133.24,446.03 C133.73,446.28 134.21,446.53 134.69,446.78 C135.18,447.03 135.66,447.28 136.14,447.53 C136.63,447.77 137.11,448.02 137.6,448.27 C138.08,448.52 138.56,448.77 139.05,449.02 C139.53,449.26 140.02,449.51 140.5,449.76 C140.98,450 141.47,450.25 141.95,450.5 C142.43,450.74 142.92,450.99 143.4,451.23 C143.89,451.48 144.37,451.72 144.85,451.96 C145.34,452.21 145.82,452.45 146.31,452.7 C146.79,452.94 147.27,453.18 147.76,453.42 C148.24,453.66 148.72,453.91 149.21,454.15 C149.69,454.39 150.18,454.63 150.66,454.87 C151.14,455.11 151.63,455.35 152.11,455.59 C152.59,455.83 153.08,456.06 153.56,456.3 C154.05,456.54 154.53,456.78 155.01,457.01 C155.5,457.25 155.98,457.48 156.47,457.72 C156.95,457.95 157.43,458.19 157.92,458.42 C158.4,458.66 158.88,458.89 159.37,459.12 C159.85,459.36 160.34,459.59 160.82,459.82 C161.3,460.05 161.79,460.28 162.27,460.51 C162.76,460.74 163.24,460.97 163.72,461.2 C164.21,461.43 164.69,461.65 165.17,461.88 C165.66,462.11 166.14,462.34 166.63,462.56 C167.11,462.79 167.59,463.01 168.08,463.24 C168.56,463.46 169.05,463.68 169.53,463.91 C170.01,464.13 170.5,464.35 170.98,464.57 C171.46,464.79 171.95,465.01 172.43,465.23 C172.92,465.45 173.4,465.67 173.88,465.89 C174.37,466.1 174.85,466.32 175.34,466.54 C175.82,466.75 176.3,466.97 176.79,467.18 C177.27,467.4 177.75,467.61 178.24,467.82 C178.72,468.04 179.21,468.25 179.69,468.46 C180.17,468.67 180.66,468.88 181.14,469.09 C181.62,469.3 182.11,469.5 182.59,469.71 C183.08,469.92 183.56,470.12 184.04,470.33 C184.53,470.53 185.01,470.74 185.5,470.94 C185.98,471.14 186.46,471.35 186.95,471.55 C187.43,471.75 187.91,471.95 188.4,472.15 C188.88,472.35 189.37,472.54 189.85,472.74 C190.33,472.94 190.82,473.13 191.3,473.33 C191.79,473.52 192.27,473.72 192.75,473.91 C193.24,474.1 193.72,474.3 194.2,474.49 C194.69,474.68 195.17,474.87 195.66,475.06 C196.14,475.24 196.62,475.43 197.11,475.62 C197.59,475.8 198.08,475.99 198.56,476.17 C199.04,476.36 199.53,476.54 200.01,476.72 C200.49,476.9 200.98,477.08 201.46,477.26 C201.95,477.44 202.43,477.62 202.91,477.8 C203.4,477.97 203.88,478.15 204.37,478.32 C204.85,478.5 205.33,478.67 205.82,478.84 C206.3,479.02 206.78,479.19 207.27,479.36 C207.75,479.53 208.24,479.69 208.72,479.86 C209.2,480.03 209.69,480.19 210.17,480.36 C210.65,480.52 211.14,480.69 211.62,480.85 C212.11,481.01 212.59,481.17 213.07,481.33 C213.56,481.49 214.04,481.65 214.53,481.8 C215.01,481.96 215.49,482.11 215.98,482.27 C216.46,482.42 216.94,482.57 217.43,482.73 C217.91,482.88 218.4,483.03 218.88,483.17 C219.36,483.32 219.85,483.47 220.33,483.62 C220.82,483.76 221.3,483.9 221.78,484.05 C222.27,484.19 222.75,484.33 223.23,484.47 C223.72,484.61 224.2,484.75 224.69,484.89 C225.17,485.02 225.65,485.16 226.14,485.29 C226.62,485.43 227.11,485.56 227.59,485.69 C228.07,485.82 228.56,485.95 229.04,486.08 C229.52,486.21 230.01,486.33 230.49,486.46 C230.98,486.58 231.46,486.71 231.94,486.83 C232.43,486.95 232.91,487.07 233.4,487.19 C233.88,487.31 234.36,487.43 234.85,487.55 C235.33,487.67 235.81,487.78 236.3,487.9 C236.78,488.01 237.27,488.12 237.75,488.24 C238.23,488.35 238.72,488.46 239.2,488.57 C239.68,488.68 240.17,488.79 240.65,488.89 C241.14,489 241.62,489.11 242.1,489.21 C242.59,489.32 243.07,489.42 243.56,489.52 C244.04,489.63 244.52,489.73 245.01,489.83 C245.49,489.93 245.97,490.03 246.46,490.13 C246.94,490.22 247.43,490.32 247.91,490.42 C248.39,490.51 248.88,490.61 249.36,490.7 C249.85,490.79 250.33,490.89 250.81,490.98 C251.3,491.07 251.78,491.16 252.26,491.25 C252.75,491.34 253.23,491.43 253.72,491.52 C254.2,491.61 254.68,491.69 255.17,491.78 C255.65,491.86 256.14,491.95 256.62,492.03 C257.1,492.12 257.59,492.2 258.07,492.28 C258.55,492.36 259.04,492.45 259.52,492.53 C260.01,492.61 260.49,492.69 260.97,492.77 C261.46,492.84 261.94,492.92 262.43,493 C262.91,493.08 263.39,493.15 263.88,493.23 C264.36,493.31 264.84,493.38 265.33,493.45 C265.81,493.53 266.3,493.6 266.78,493.67 C267.26,493.75 267.75,493.82 268.23,493.89 C268.71,493.96 269.2,494.03 269.68,494.1 C270.17,494.17 270.65,494.24 271.13,494.31 C271.62,494.38 272.1,494.45 272.59,494.51 C273.07,494.58 273.55,494.65 274.04,494.72 C274.52,494.78 275,494.85 275.49,494.91 C275.97,494.98 276.46,495.04 276.94,495.11 C277.42,495.17 277.91,495.23 278.39,495.3 C278.88,495.36 279.36,495.42 279.84,495.48 C280.33,495.55 280.81,495.61 281.29,495.67 C281.78,495.73 282.26,495.79 282.75,495.85 C283.23,495.91 283.71,495.97 284.2,496.03 C284.68,496.09 285.17,496.15 285.65,496.21 C286.13,496.27 286.62,496.32 287.1,496.38 C287.58,496.44 288.07,496.5 288.55,496.56 C289.04,496.61 289.52,496.67 290,496.73 C290.49,496.78 290.97,496.84 291.45,496.9 C291.94,496.95 292.42,497.01 292.91,497.06 C293.39,497.12 293.87,497.17 294.36,497.23 C294.84,497.28 295.33,497.34 295.81,497.39 C296.29,497.45 296.78,497.5 297.26,497.56 C297.74,497.61 298.23,497.67 298.71,497.72 C299.2,497.78 299.68,497.83 300.16,497.88 C300.65,497.94 301.13,497.99 301.62,498.05 C302.1,498.1 302.58,498.15 303.07,498.21 C303.55,498.26 304.03,498.31 304.52,498.37 C305,498.42 305.49,498.47 305.97,498.53 C306.45,498.58 306.94,498.64 307.42,498.69 C307.91,498.74 308.39,498.8 308.87,498.85 C309.36,498.9 309.84,498.96 310.32,499.01 C310.81,499.07 311.29,499.12 311.78,499.17 C312.26,499.23 312.74,499.28 313.23,499.34 C313.71,499.39 314.2,499.45 314.68,499.5 C315.16,499.56 315.65,499.61 316.13,499.67 C316.61,499.72 317.1,499.78 317.58,499.83 C318.07,499.89 318.55,499.94 319.03,500 C319.52,500.05 320,500.11 320.49,500.17 C320.97,500.22 321.45,500.28 321.94,500.34 C322.42,500.39 322.9,500.45 323.39,500.51 C323.87,500.57 324.36,500.63 324.84,500.68 C325.32,500.74 325.81,500.8 326.29,500.86 C326.77,500.92 327.26,500.98 327.74,501.04 C328.23,501.1 328.71,501.16 329.19,501.22 C329.68,501.28 330.16,501.34 330.65,501.4 C331.13,501.47 331.61,501.53 332.1,501.59 C332.58,501.65 333.06,501.72 333.55,501.78 C334.03,501.84 334.76,501.94 335,501.97 L335,516.6 L44.7,516.6 Z" fill="#ffffff"/>
<path d="M44.7,318.31 C47.12,318.31 54.38,318.31 59.22,318.32 C64.05,318.34 68.89,318.35 73.73,318.38 C78.57,318.4 83.41,318.43 88.25,318.46 C93.08,318.5 97.92,318.54 102.76,318.59 C107.6,318.63 112.44,318.69 117.28,318.74 C122.11,318.8 126.95,318.87 131.79,318.93 C136.63,319 141.47,319.08 146.31,319.16 C151.14,319.24 155.98,319.33 160.82,319.42 C165.66,319.51 170.5,319.61 175.34,319.71 C180.17,319.82 185.01,319.93 189.85,320.04 C194.69,320.16 199.53,320.28 204.37,320.4 C209.2,320.53 214.04,320.66 218.88,320.8 C223.72,320.93 228.56,321.07 233.4,321.22 C238.23,321.37 243.07,321.52 247.91,321.68 C252.75,321.84 257.59,322 262.43,322.17 C267.26,322.34 272.1,322.51 276.94,322.69 C281.78,322.87 286.62,323.05 291.45,323.24 C296.29,323.43 301.13,323.62 305.97,323.82 C310.81,324.02 315.65,324.22 320.49,324.43 C325.32,324.64 332.58,324.96 335,325.07" fill="none" stroke="#000000" stroke-width="2"/>
<path d="M44.7,318.3 C44.94,318.32 45.67,318.36 46.15,318.42 C46.64,318.48 47.12,318.56 47.6,318.66 C48.09,318.76 48.57,318.88 49.05,319.01 C49.54,319.15 50.02,319.3 50.51,319.48 C50.99,319.65 51.47,319.84 51.96,320.04 C52.44,320.25 52.93,320.48 53.41,320.72 C53.89,320.96 54.38,321.22 54.86,321.49 C55.34,321.76 55.83,322.06 56.31,322.36 C56.8,322.67 57.28,322.99 57.76,323.32 C58.25,323.66 58.73,324.01 59.22,324.37 C59.7,324.74 60.18,325.12 60.67,325.51 C61.15,325.9 61.63,326.31 62.12,326.73 C62.6,327.15 63.09,327.58 63.57,328.03 C64.05,328.47 64.54,328.93 65.02,329.4 C65.5,329.87 65.99,330.35 66.47,330.84 C66.96,331.33 67.44,331.84 67.92,332.35 C68.41,332.87 68.89,333.39 69.38,333.93 C69.86,334.46 70.34,335.01 70.83,335.56 C71.31,336.11 71.79,336.68 72.28,337.25 C72.76,337.82 73.25,338.41 73.73,339 C74.21,339.59 74.7,340.18 75.18,340.79 C75.67,341.4 76.15,342.01 76.63,342.63 C77.12,343.25 77.6,343.88 78.08,344.51 C78.57,345.15 79.05,345.79 79.54,346.44 C80.02,347.08 80.5,347.73 80.99,348.39 C81.47,349.05 81.96,349.71 82.44,350.38 C82.92,351.05 83.41,351.72 83.89,352.4 C84.37,353.07 84.86,353.75 85.34,354.44 C85.83,355.12 86.31,355.81 86.79,356.5 C87.28,357.19 87.76,357.88 88.25,358.58 C88.73,359.27 89.21,359.97 89.7,360.67 C90.18,361.37 90.66,362.07 91.15,362.77 C91.63,363.48 92.12,364.18 92.6,364.88 C93.08,365.59 93.57,366.29 94.05,367 C94.53,367.7 95.02,368.41 95.5,369.12 C95.99,369.82 96.47,370.53 96.95,371.24 C97.44,371.95 97.92,372.65 98.41,373.36 C98.89,374.07 99.37,374.77 99.86,375.48 C100.34,376.19 100.82,376.9 101.31,377.6 C101.79,378.31 102.28,379.01 102.76,379.72 C103.24,380.42 103.73,381.13 104.21,381.83 C104.7,382.53 105.18,383.23 105.66,383.93 C106.15,384.63 106.63,385.33 107.11,386.03 C107.6,386.73 108.08,387.43 108.57,388.12 C109.05,388.81 109.53,389.51 110.02,390.2 C110.5,390.89 110.99,391.58 111.47,392.27 C111.95,392.95 112.44,393.64 112.92,394.32 C113.4,395 113.89,395.68 114.37,396.36 C114.86,397.04 115.34,397.71 115.82,398.38 C116.31,399.05 116.79,399.72 117.28,400.39 C117.76,401.05 118.24,401.72 118.73,402.38 C119.21,403.03 119.69,403.69 120.18,404.34 C120.66,404.99 121.15,405.64 121.63,406.29 C122.11,406.93 122.6,407.57 123.08,408.21 C123.56,408.85 124.05,409.48 124.53,410.11 C125.02,410.74 125.5,411.36 125.98,411.98 C126.47,412.6 126.95,413.22 127.44,413.83 C127.92,414.44 128.4,415.05 128.89,415.65 C129.37,416.25 129.85,416.84 130.34,417.43 C130.82,418.03 131.31,418.61 131.79,419.19 C132.27,419.77 132.76,420.35 133.24,420.91 C133.73,421.48 134.21,422.05 134.69,422.6 C135.18,423.16 135.66,423.71 136.14,424.26 C136.63,424.81 137.11,425.35 137.6,425.88 C138.08,426.42 138.56,426.95 139.05,427.48 C139.53,428 140.02,428.52 140.5,429.03 C140.98,429.55 141.47,430.06 141.95,430.56 C142.43,431.07 142.92,431.56 143.4,432.06 C143.89,432.55 144.37,433.04 144.85,433.52 C145.34,434.01 145.82,434.48 146.31,434.96 C146.79,435.43 147.27,435.9 147.76,436.36 C148.24,436.83 148.72,437.29 149.21,437.74 C149.69,438.19 150.18,438.64 150.66,439.09 C151.14,439.53 151.63,439.97 152.11,440.4 C152.59,440.84 153.08,441.27 153.56,441.69 C154.05,442.12 154.53,442.54 155.01,442.96 C155.5,443.37 155.98,443.78 156.47,444.19 C156.95,444.6 157.43,445 157.92,445.4 C158.4,445.8 158.88,446.19 159.37,446.58 C159.85,446.97 160.34,447.36 160.82,447.74 C161.3,448.12 161.79,448.5 162.27,448.87 C162.76,449.24 163.24,449.61 163.72,449.97 C164.21,450.34 164.69,450.7 165.17,451.06 C165.66,451.41 166.14,451.76 166.63,452.11 C167.11,452.46 167.59,452.81 168.08,453.15 C168.56,453.49 169.05,453.82 169.53,454.16 C170.01,454.49 170.5,454.82 170.98,455.14 C171.46,455.47 171.95,455.79 172.43,456.11 C172.92,456.43 173.4,456.74 173.88,457.05 C174.37,457.36 174.85,457.67 175.34,457.97 C175.82,458.28 176.3,458.58 176.79,458.88 C177.27,459.17 177.75,459.47 178.24,459.76 C178.72,460.05 179.21,460.33 179.69,460.62 C180.17,460.9 180.66,461.18 181.14,461.46 C181.62,461.73 182.11,462.01 182.59,462.28 C183.08,462.55 183.56,462.82 184.04,463.08 C184.53,463.35 185.01,463.61 185.5,463.86 C185.98,464.12 186.46,464.38 186.95,464.63 C187.43,464.88 187.91,465.13 188.4,465.38 C188.88,465.63 189.37,465.87 189.85,466.11 C190.33,466.35 190.82,466.59 191.3,466.83 C191.79,467.06 192.27,467.3 192.75,467.53 C193.24,467.76 193.72,467.99 194.2,468.21 C194.69,468.44 195.17,468.66 195.66,468.88 C196.14,469.1 196.62,469.32 197.11,469.53 C197.59,469.75 198.08,469.96 198.56,470.17 C199.04,470.38 199.53,470.59 200.01,470.8 C200.49,471 200.98,471.21 201.46,471.41 C201.95,471.61 202.43,471.81 202.91,472.01 C203.4,472.21 203.88,472.4 204.37,472.6 C204.85,472.79 205.33,472.98 205.82,473.17 C206.3,473.36 206.78,473.55 207.27,473.73 C207.75,473.92 208.24,474.1 208.72,474.29 C209.2,474.47 209.69,474.65 210.17,474.83 C210.65,475.01 211.14,475.18 211.62,475.36 C212.11,475.53 212.59,475.71 213.07,475.88 C213.56,476.05 214.04,476.22 214.53,476.39 C215.01,476.56 215.49,476.73 215.98,476.89 C216.46,477.06 216.94,477.22 217.43,477.39 C217.91,477.55 218.4,477.71 218.88,477.87 C219.36,478.03 219.85,478.19 220.33,478.35 C220.82,478.51 221.3,478.67 221.78,478.82 C222.27,478.98 222.75,479.13 223.23,479.29 C223.72,479.44 224.2,479.59 224.69,479.74 C225.17,479.89 225.65,480.05 226.14,480.2 C226.62,480.34 227.11,480.49 227.59,480.64 C228.07,480.79 228.56,480.94 229.04,481.08 C229.52,481.23 230.01,481.37 230.49,481.52 C230.98,481.66 231.46,481.8 231.94,481.95 C232.43,482.09 232.91,482.23 233.4,482.37 C233.88,482.51 234.36,482.65 234.85,482.79 C235.33,482.92 235.81,483.06 236.3,483.2 C236.78,483.33 237.27,483.47 237.75,483.6 C238.23,483.74 238.72,483.87 239.2,484 C239.68,484.14 240.17,484.27 240.65,484.4 C241.14,484.53 241.62,484.66 242.1,484.79 C242.59,484.92 243.07,485.05 243.56,485.17 C244.04,485.3 244.52,485.43 245.01,485.55 C245.49,485.68 245.97,485.8 246.46,485.93 C246.94,486.05 247.43,486.17 247.91,486.29 C248.39,486.42 248.88,486.54 249.36,486.66 C249.85,486.78 250.33,486.9 250.81,487.02 C251.3,487.13 251.78,487.25 252.26,487.37 C252.75,487.48 253.23,487.6 253.72,487.72 C254.2,487.83 254.68,487.94 255.17,488.06 C255.65,488.17 256.14,488.28 256.62,488.39 C257.1,488.51 257.59,488.62 258.07,488.73 C258.55,488.84 259.04,488.94 259.52,489.05 C260.01,489.16 260.49,489.27 260.97,489.37 C261.46,489.48 261.94,489.59 262.43,489.69 C262.91,489.8 263.39,489.9 263.88,490 C264.36,490.11 264.84,490.21 265.33,490.31 C265.81,490.41 266.3,490.51 266.78,490.61 C267.26,490.71 267.75,490.81 268.23,490.91 C268.71,491.01 269.2,491.1 269.68,491.2 C270.17,491.3 270.65,491.39 271.13,491.49 C271.62,491.58 272.1,491.68 272.59,491.77 C273.07,491.87 273.55,491.96 274.04,492.05 C274.52,492.14 275,492.23 275.49,492.32 C275.97,492.41 276.46,492.5 276.94,492.59 C277.42,492.68 277.91,492.77 278.39,492.86 C278.88,492.94 279.36,493.03 279.84,493.12 C280.33,493.2 280.81,493.29 281.29,493.37 C281.78,493.46 282.26,493.54 282.75,493.62 C283.23,493.7 283.71,493.79 284.2,493.87 C284.68,493.95 285.17,494.03 285.65,494.11 C286.13,494.19 286.62,494.27 287.1,494.35 C287.58,494.42 288.07,494.5 288.55,494.58 C289.04,494.66 289.52,494.73 290,494.81 C290.49,494.88 290.97,494.96 291.45,495.03 C291.94,495.11 292.42,495.18 292.91,495.25 C293.39,495.33 293.87,495.4 294.36,495.47 C294.84,495.54 295.33,495.61 295.81,495.68 C296.29,495.75 296.78,495.82 297.26,495.89 C297.74,495.96 298.23,496.02 298.71,496.09 C299.2,496.16 299.68,496.22 300.16,496.29 C300.65,496.36 301.13,496.42 301.62,496.49 C302.1,496.55 302.58,496.61 303.07,496.68 C303.55,496.74 304.03,496.8 304.52,496.86 C305,496.93 305.49,496.99 305.97,497.05 C306.45,497.11 306.94,497.17 307.42,497.23 C307.91,497.29 308.39,497.34 308.87,497.4 C309.36,497.46 309.84,497.52 310.32,497.57 C310.81,497.63 311.29,497.69 311.78,497.74 C312.26,497.8 312.74,497.85 313.23,497.91 C313.71,497.96 314.2,498.01 314.68,498.07 C315.16,498.12 315.65,498.17 316.13,498.22 C316.61,498.28 317.1,498.33 317.58,498.38 C318.07,498.43 318.55,498.48 319.03,498.53 C319.52,498.58 320,498.62 320.49,498.67 C320.97,498.72 321.45,498.77 321.94,498.81 C322.42,498.86 322.9,498.91 323.39,498.95 C323.87,499 324.36,499.04 324.84,499.09 C325.32,499.13 325.81,499.18 326.29,499.22 C326.77,499.26 327.26,499.31 327.74,499.35 C328.23,499.39 328.71,499.43 329.19,499.47 C329.68,499.51 330.16,499.56 330.65,499.6 C331.13,499.64 331.61,499.68 332.1,499.71 C332.58,499.75 333.06,499.79 333.55,499.83 C334.03,499.87 334.76,499.92 335,499.94" fill="none" stroke="#8800ff" stroke-width="2"/>
<path d="M44.7,516.6 C44.94,516.57 45.67,516.6 46.15,516.4 C46.64,516.2 47.12,515.85 47.6,515.39 C48.09,514.92 48.57,514.33 49.05,513.63 C49.54,512.94 50.02,512.12 50.51,511.21 C50.99,510.3 51.47,509.28 51.96,508.19 C52.44,507.1 52.93,505.9 53.41,504.65 C53.89,503.39 54.38,502.05 54.86,500.65 C55.34,499.26 55.83,497.79 56.31,496.28 C56.8,494.77 57.28,493.2 57.76,491.6 C58.25,490 58.73,488.35 59.22,486.69 C59.7,485.02 60.18,483.32 60.67,481.61 C61.15,479.9 61.63,478.17 62.12,476.45 C62.6,474.72 63.09,472.98 63.57,471.27 C64.05,469.55 64.54,467.83 65.02,466.14 C65.5,464.46 65.99,462.78 66.47,461.14 C66.96,459.5 67.44,457.89 67.92,456.3 C68.41,454.72 68.89,453.16 69.38,451.63 C69.86,450.11 70.34,448.61 70.83,447.14 C71.31,445.68 71.79,444.24 72.28,442.84 C72.76,441.44 73.25,440.07 73.73,438.74 C74.21,437.41 74.7,436.11 75.18,434.85 C75.67,433.59 76.15,432.36 76.63,431.17 C77.12,429.99 77.6,428.84 78.08,427.73 C78.57,426.62 79.05,425.55 79.54,424.52 C80.02,423.5 80.5,422.51 80.99,421.57 C81.47,420.63 81.96,419.72 82.44,418.87 C82.92,418.02 83.41,417.2 83.89,416.44 C84.37,415.68 84.86,414.96 85.34,414.29 C85.83,413.62 86.31,413 86.79,412.42 C87.28,411.85 87.76,411.32 88.25,410.83 C88.73,410.34 89.21,409.89 89.7,409.49 C90.18,409.08 90.66,408.72 91.15,408.39 C91.63,408.06 92.12,407.78 92.6,407.52 C93.08,407.27 93.57,407.05 94.05,406.87 C94.53,406.69 95.02,406.54 95.5,406.42 C95.99,406.3 96.47,406.21 96.95,406.16 C97.44,406.1 97.92,406.07 98.41,406.07 C98.89,406.06 99.37,406.09 99.86,406.13 C100.34,406.18 100.82,406.26 101.31,406.35 C101.79,406.44 102.28,406.56 102.76,406.7 C103.24,406.83 103.73,406.99 104.21,407.16 C104.7,407.33 105.18,407.52 105.66,407.73 C106.15,407.93 106.63,408.15 107.11,408.38 C107.6,408.62 108.08,408.86 108.57,409.12 C109.05,409.37 109.53,409.64 110.02,409.92 C110.5,410.19 110.99,410.48 111.47,410.78 C111.95,411.07 112.44,411.38 112.92,411.7 C113.4,412.01 113.89,412.34 114.37,412.67 C114.86,413 115.34,413.34 115.82,413.69 C116.31,414.03 116.79,414.39 117.28,414.75 C117.76,415.11 118.24,415.48 118.73,415.85 C119.21,416.23 119.69,416.61 120.18,416.99 C120.66,417.38 121.15,417.77 121.63,418.16 C122.11,418.56 122.6,418.96 123.08,419.36 C123.56,419.76 124.05,420.17 124.53,420.58 C125.02,420.99 125.5,421.4 125.98,421.82 C126.47,422.24 126.95,422.65 127.44,423.07 C127.92,423.49 128.4,423.92 128.89,424.34 C129.37,424.76 129.85,425.18 130.34,425.61 C130.82,426.03 131.31,426.46 131.79,426.88 C132.27,427.3 132.76,427.73 133.24,428.15 C133.73,428.57 134.21,428.99 134.69,429.41 C135.18,429.83 135.66,430.24 136.14,430.66 C136.63,431.07 137.11,431.48 137.6,431.89 C138.08,432.3 138.56,432.71 139.05,433.11 C139.53,433.52 140.02,433.92 140.5,434.31 C140.98,434.71 141.47,435.11 141.95,435.5 C142.43,435.89 142.92,436.28 143.4,436.67 C143.89,437.06 144.37,437.45 144.85,437.83 C145.34,438.21 145.82,438.59 146.31,438.97 C146.79,439.34 147.27,439.72 147.76,440.09 C148.24,440.46 148.72,440.83 149.21,441.2 C149.69,441.57 150.18,441.93 150.66,442.29 C151.14,442.66 151.63,443.02 152.11,443.37 C152.59,443.73 153.08,444.08 153.56,444.44 C154.05,444.79 154.53,445.14 155.01,445.48 C155.5,445.83 155.98,446.18 156.47,446.52 C156.95,446.86 157.43,447.2 157.92,447.54 C158.4,447.87 158.88,448.21 159.37,448.54 C159.85,448.87 160.34,449.21 160.82,449.53 C161.3,449.86 161.79,450.19 162.27,450.51 C162.76,450.83 163.24,451.15 163.72,451.47 C164.21,451.79 164.69,452.11 165.17,452.42 C165.66,452.73 166.14,453.04 166.63,453.35 C167.11,453.66 167.59,453.97 168.08,454.27 C168.56,454.58 169.05,454.88 169.53,455.18 C170.01,455.48 170.5,455.78 170.98,456.07 C171.46,456.37 171.95,456.66 172.43,456.95 C172.92,457.25 173.4,457.53 173.88,457.82 C174.37,458.11 174.85,458.39 175.34,458.68 C175.82,458.96 176.3,459.24 176.79,459.52 C177.27,459.79 177.75,460.07 178.24,460.34 C178.72,460.62 179.21,460.89 179.69,461.16 C180.17,461.43 180.66,461.7 181.14,461.96 C181.62,462.23 182.11,462.49 182.59,462.75 C183.08,463.01 183.56,463.27 184.04,463.53 C184.53,463.79 185.01,464.04 185.5,464.29 C185.98,464.55 186.46,464.8 186.95,465.05 C187.43,465.3 187.91,465.54 188.4,465.79 C188.88,466.03 189.37,466.28 189.85,466.52 C190.33,466.76 190.82,467 191.3,467.23 C191.79,467.47 192.27,467.71 192.75,467.94 C193.24,468.17 193.72,468.4 194.2,468.63 C194.69,468.86 195.17,469.09 195.66,469.32 C196.14,469.54 196.62,469.77 197.11,469.99 C197.59,470.21 198.08,470.43 198.56,470.65 C199.04,470.87 199.53,471.08 200.01,471.3 C200.49,471.51 200.98,471.73 201.46,471.94 C201.95,472.15 202.43,472.36 202.91,472.56 C203.4,472.77 203.88,472.98 204.37,473.18 C204.85,473.38 205.33,473.59 205.82,473.79 C206.3,473.99 206.78,474.19 207.27,474.38 C207.75,474.58 208.24,474.77 208.72,474.97 C209.2,475.16 209.69,475.35 210.17,475.54 C210.65,475.73 211.14,475.92 211.62,476.11 C212.11,476.3 212.59,476.48 213.07,476.66 C213.56,476.85 214.04,477.03 214.53,477.21 C215.01,477.39 215.49,477.57 215.98,477.75 C216.46,477.92 216.94,478.1 217.43,478.27 C217.91,478.45 218.4,478.62 218.88,478.79 C219.36,478.96 219.85,479.13 220.33,479.3 C220.82,479.47 221.3,479.63 221.78,479.8 C222.27,479.96 222.75,480.12 223.23,480.29 C223.72,480.45 224.2,480.61 224.69,480.77 C225.17,480.92 225.65,481.08 226.14,481.24 C226.62,481.39 227.11,481.55 227.59,481.7 C228.07,481.85 228.56,482 229.04,482.15 C229.52,482.3 230.01,482.45 230.49,482.6 C230.98,482.75 231.46,482.89 231.94,483.04 C232.43,483.18 232.91,483.33 233.4,483.47 C233.88,483.61 234.36,483.75 234.85,483.89 C235.33,484.03 235.81,484.17 236.3,484.3 C236.78,484.44 237.27,484.57 237.75,484.71 C238.23,484.84 238.72,484.97 239.2,485.1 C239.68,485.24 240.17,485.37 240.65,485.49 C241.14,485.62 241.62,485.75 242.1,485.88 C242.59,486 243.07,486.13 243.56,486.25 C244.04,486.38 244.52,486.5 245.01,486.62 C245.49,486.74 245.97,486.86 246.46,486.98 C246.94,487.1 247.43,487.22 247.91,487.34 C248.39,487.45 248.88,487.57 249.36,487.68 C249.85,487.8 250.33,487.91 250.81,488.02 C251.3,488.14 251.78,488.25 252.26,488.36 C252.75,488.47 253.23,488.58 253.72,488.68 C254.2,488.79 254.68,488.9 255.17,489.01 C255.65,489.11 256.14,489.22 256.62,489.32 C257.1,489.42 257.59,489.53 258.07,489.63 C258.55,489.73 259.04,489.83 259.52,489.93 C260.01,490.03 260.49,490.13 260.97,490.23 C261.46,490.33 261.94,490.42 262.43,490.52 C262.91,490.61 263.39,490.71 263.88,490.8 C264.36,490.9 264.84,490.99 265.33,491.08 C265.81,491.18 266.3,491.27 266.78,491.36 C267.26,491.45 267.75,491.54 268.23,491.63 C268.71,491.72 269.2,491.8 269.68,491.89 C270.17,491.98 270.65,492.06 271.13,492.15 C271.62,492.24 272.1,492.32 272.59,492.4 C273.07,492.49 273.55,492.57 274.04,492.65 C274.52,492.74 275,492.82 275.49,492.9 C275.97,492.98 276.46,493.06 276.94,493.14 C277.42,493.22 277.91,493.3 278.39,493.37 C278.88,493.45 279.36,493.53 279.84,493.61 C280.33,493.68 280.81,493.76 281.29,493.83 C281.78,493.91 282.26,493.98 282.75,494.06 C283.23,494.13 283.71,494.2 284.2,494.28 C284.68,494.35 285.17,494.42 285.65,494.49 C286.13,494.56 286.62,494.63 287.1,494.7 C287.58,494.77 288.07,494.84 288.55,494.91 C289.04,494.98 289.52,495.05 290,495.12 C290.49,495.18 290.97,495.25 291.45,495.32 C291.94,495.39 292.42,495.45 292.91,495.52 C293.39,495.58 293.87,495.65 294.36,495.71 C294.84,495.78 295.33,495.84 295.81,495.91 C296.29,495.97 296.78,496.03 297.26,496.1 C297.74,496.16 298.23,496.22 298.71,496.28 C299.2,496.34 299.68,496.41 300.16,496.47 C300.65,496.53 301.13,496.59 301.62,496.65 C302.1,496.71 302.58,496.77 303.07,496.83 C303.55,496.89 304.03,496.95 304.52,497.01 C305,497.07 305.49,497.12 305.97,497.18 C306.45,497.24 306.94,497.3 307.42,497.36 C307.91,497.41 308.39,497.47 308.87,497.53 C309.36,497.58 309.84,497.64 310.32,497.7 C310.81,497.75 311.29,497.81 311.78,497.87 C312.26,497.92 312.74,497.98 313.23,498.03 C313.71,498.09 314.2,498.14 314.68,498.2 C315.16,498.25 315.65,498.31 316.13,498.36 C316.61,498.42 317.1,498.47 317.58,498.53 C318.07,498.58 318.55,498.64 319.03,498.69 C319.52,498.74 320,498.8 320.49,498.85 C320.97,498.9 321.45,498.96 321.94,499.01 C322.42,499.07 322.9,499.12 323.39,499.17 C323.87,499.23 324.36,499.28 324.84,499.33 C325.32,499.39 325.81,499.44 326.29,499.49 C326.77,499.55 327.26,499.6 327.74,499.65 C328.23,499.7 328.71,499.76 329.19,499.81 C329.68,499.86 330.16,499.92 330.65,499.97 C331.13,500.02 331.61,500.08 332.1,500.13 C332.58,500.18 333.06,500.24 333.55,500.29 C334.03,500.34 334.76,500.42 335,500.45" fill="none" stroke="#0000ff" stroke-width="2"/>
<path d="M44.7,516.6 C44.94,516.57 45.67,516.6 46.15,516.4 C46.64,516.2 47.12,515.85 47.6,515.39 C48.09,514.92 48.57,514.33 49.05,513.63 C49.54,512.94 50.02,512.12 50.51,511.21 C50.99,510.3 51.47,509.28 51.96,508.19 C52.44,507.1 52.93,505.9 53.41,504.65 C53.89,503.39 54.38,502.05 54.86,500.65 C55.34,499.26 55.83,497.62 56.31,496.28 C56.8,494.93 57.28,493.83 57.76,492.59 C58.25,491.35 58.73,490.08 59.22,488.81 C59.7,487.54 60.18,486.26 60.67,484.98 C61.15,483.69 61.63,482.4 62.12,481.11 C62.6,479.82 63.09,478.53 63.57,477.24 C64.05,475.96 64.54,474.67 65.02,473.4 C65.5,472.13 65.99,470.87 66.47,469.62 C66.96,468.38 67.44,467.14 67.92,465.93 C68.41,464.72 68.89,463.52 69.38,462.36 C69.86,461.19 70.34,460.04 70.83,458.93 C71.31,457.82 71.79,456.73 72.28,455.68 C72.76,454.63 73.25,453.61 73.73,452.63 C74.21,451.66 74.7,450.72 75.18,449.82 C75.67,448.93 76.15,448.08 76.63,447.27 C77.12,446.46 77.6,445.69 78.08,444.97 C78.57,444.24 79.05,443.55 79.54,442.9 C80.02,442.24 80.5,441.63 80.99,441.05 C81.47,440.47 81.96,439.93 82.44,439.42 C82.92,438.91 83.41,438.44 83.89,438 C84.37,437.55 84.86,437.14 85.34,436.76 C85.83,436.38 86.31,436.03 86.79,435.71 C87.28,435.39 87.76,435.09 88.25,434.82 C88.73,434.56 89.21,434.32 89.7,434.1 C90.18,433.88 90.66,433.69 91.15,433.52 C91.63,433.35 92.12,433.2 92.6,433.08 C93.08,432.95 93.57,432.85 94.05,432.76 C94.53,432.67 95.02,432.61 95.5,432.55 C95.99,432.5 96.47,432.47 96.95,432.45 C97.44,432.43 97.92,432.43 98.41,432.44 C98.89,432.45 99.37,432.47 99.86,432.51 C100.34,432.54 100.82,432.59 101.31,432.65 C101.79,432.71 102.28,432.78 102.76,432.86 C103.24,432.94 103.73,433.03 104.21,433.13 C104.7,433.24 105.18,433.35 105.66,433.47 C106.15,433.59 106.63,433.72 107.11,433.86 C107.6,434 108.08,434.15 108.57,434.3 C109.05,434.46 109.53,434.62 110.02,434.8 C110.5,434.97 110.99,435.15 111.47,435.33 C111.95,435.52 112.44,435.71 112.92,435.91 C113.4,436.11 113.89,436.31 114.37,436.52 C114.86,436.73 115.34,436.95 115.82,437.17 C116.31,437.39 116.79,437.61 117.28,437.84 C117.76,438.07 118.24,438.3 118.73,438.54 C119.21,438.77 119.69,439.01 120.18,439.25 C120.66,439.5 121.15,439.74 121.63,439.99 C122.11,440.24 122.6,440.48 123.08,440.73 C123.56,440.98 124.05,441.24 124.53,441.49 C125.02,441.74 125.5,442 125.98,442.25 C126.47,442.5 126.95,442.75 127.44,443.01 C127.92,443.26 128.4,443.51 128.89,443.76 C129.37,444.02 129.85,444.27 130.34,444.52 C130.82,444.77 131.31,445.02 131.79,445.27 C132.27,445.53 132.76,445.78 133.24,446.03 C133.73,446.28 134.21,446.53 134.69,446.78 C135.18,447.03 135.66,447.28 136.14,447.53 C136.63,447.77 137.11,448.02 137.6,448.27 C138.08,448.52 138.56,448.77 139.05,449.02 C139.53,449.26 140.02,449.51 140.5,449.76 C140.98,450 141.47,450.25 141.95,450.5 C142.43,450.74 142.92,450.99 143.4,451.23 C143.89,451.48 144.37,451.72 144.85,451.96 C145.34,452.21 145.82,452.45 146.31,452.7 C146.79,452.94 147.27,453.18 147.76,453.42 C148.24,453.66 148.72,453.91 149.21,454.15 C149.69,454.39 150.18,454.63 150.66,454.87 C151.14,455.11 151.63,455.35 152.11,455.59 C152.59,455.83 153.08,456.06 153.56,456.3 C154.05,456.54 154.53,456.78 155.01,457.01 C155.5,457.25 155.98,457.48 156.47,457.72 C156.95,457.95 157.43,458.19 157.92,458.42 C158.4,458.66 158.88,458.89 159.37,459.12 C159.85,459.36 160.34,459.59 160.82,459.82 C161.3,460.05 161.79,460.28 162.27,460.51 C162.76,460.74 163.24,460.97 163.72,461.2 C164.21,461.43 164.69,461.65 165.17,461.88 C165.66,462.11 166.14,462.34 166.63,462.56 C167.11,462.79 167.59,463.01 168.08,463.24 C168.56,463.46 169.05,463.68 169.53,463.91 C170.01,464.13 170.5,464.35 170.98,464.57 C171.46,464.79 171.95,465.01 172.43,465.23 C172.92,465.45 173.4,465.67 173.88,465.89 C174.37,466.1 174.85,466.32 175.34,466.54 C175.82,466.75 176.3,466.97 176.79,467.18 C177.27,467.4 177.75,467.61 178.24,467.82 C178.72,468.04 179.21,468.25 179.69,468.46 C180.17,468.67 180.66,468.88 181.14,469.09 C181.62,469.3 182.11,469.5 182.59,469.71 C183.08,469.92 183.56,470.12 184.04,470.33 C184.53,470.53 185.01,470.74 185.5,470.94 C185.98,471.14 186.46,471.35 186.95,471.55 C187.43,471.75 187.91,471.95 188.4,472.15 C188.88,472.35 189.37,472.54 189.85,472.74 C190.33,472.94 190.82,473.13 191.3,473.33 C191.79,473.52 192.27,473.72 192.75,473.91 C193.24,474.1 193.72,474.3 194.2,474.49 C194.69,474.68 195.17,474.87 195.66,475.06 C196.14,475.24 196.62,475.43 197.11,475.62 C197.59,475.8 198.08,475.99 198.56,476.17 C199.04,476.36 199.53,476.54 200.01,476.72 C200.49,476.9 200.98,477.08 201.46,477.26 C201.95,477.44 202.43,477.62 202.91,477.8 C203.4,477.97 203.88,478.15 204.37,478.32 C204.85,478.5 205.33,478.67 205.82,478.84 C206.3,479.02 206.78,479.19 207.27,479.36 C207.75,479.53 208.24,479.69 208.72,479.86 C209.2,480.03 209.69,480.19 210.17,480.36 C210.65,480.52 211.14,480.69 211.62,480.85 C212.11,481.01 212.59,481.17 213.07,481.33 C213.56,481.49 214.04,481.65 214.53,481.8 C215.01,481.96 215.49,482.11 215.98,482.27 C216.46,482.42 216.94,482.57 217.43,482.73 C217.91,482.88 218.4,483.03 218.88,483.17 C219.36,483.32 219.85,483.47 220.33,483.62 C220.82,483.76 221.3,483.9 221.78,484.05 C222.27,484.19 222.75,484.33 223.23,484.47 C223.72,484.61 224.2,484.75 224.69,484.89 C225.17,485.02 225.65,485.16 226.14,485.29 C226.62,485.43 227.11,485.56 227.59,485.69 C228.07,485.82 228.56,485.95 229.04,486.08 C229.52,486.21 230.01,486.33 230.49,486.46 C230.98,486.58 231.46,486.71 231.94,486.83 C232.43,486.95 232.91,487.07 233.4,487.19 C233.88,487.31 234.36,487.43 234.85,487.55 C235.33,487.67 235.81,487.78 236.3,487.9 C236.78,488.01 237.27,488.12 237.75,488.24 C238.23,488.35 238.72,488.46 239.2,488.57 C239.68,488.68 240.17,488.79 240.65,488.89 C241.14,489 241.62,489.11 242.1,489.21 C242.59,489.32 243.07,489.42 243.56,489.52 C244.04,489.63 244.52,489.73 245.01,489.83 C245.49,489.93 245.97,490.03 246.46,490.13 C246.94,490.22 247.43,490.32 247.91,490.42 C248.39,490.51 248.88,490.61 249.36,490.7 C249.85,490.79 250.33,490.89 250.81,490.98 C251.3,491.07 251.78,491.16 252.26,491.25 C252.75,491.34 253.23,491.43 253.72,491.52 C254.2,491.61 254.68,491.69 255.17,491.78 C255.65,491.86 256.14,491.95 256.62,492.03 C257.1,492.12 257.59,492.2 258.07,492.28 C258.55,492.36 259.04,492.45 259.52,492.53 C260.01,492.61 260.49,492.69 260.97,492.77 C261.46,492.84 261.94,492.92 262.43,493 C262.91,493.08 263.39,493.15 263.88,493.23 C264.36,493.31 264.84,493.38 265.33,493.45 C265.81,493.53 266.3,493.6 266.78,493.67 C267.26,493.75 267.75,493.82 268.23,493.89 C268.71,493.96 269.2,494.03 269.68,494.1 C270.17,494.17 270.65,494.24 271.13,494.31 C271.62,494.38 272.1,494.45 272.59,494.51 C273.07,494.58 273.55,494.65 274.04,494.72 C274.52,494.78 275,494.85 275.49,494.91 C275.97,494.98 276.46,495.04 276.94,495.11 C277.42,495.17 277.91,495.23 278.39,495.3 C278.88,495.36 279.36,495.42 279.84,495.48 C280.33,495.55 280.81,495.61 281.29,495.67 C281.78,495.73 282.26,495.79 282.75,495.85 C283.23,495.91 283.71,495.97 284.2,496.03 C284.68,496.09 285.17,496.15 285.65,496.21 C286.13,496.27 286.62,496.32 287.1,496.38 C287.58,496.44 288.07,496.5 288.55,496.56 C289.04,496.61 289.52,496.67 290,496.73 C290.49,496.78 290.97,496.84 291.45,496.9 C291.94,496.95 292.42,497.01 292.91,497.06 C293.39,497.12 293.87,497.17 294.36,497.23 C294.84,497.28 295.33,497.34 295.81,497.39 C296.29,497.45 296.78,497.5 297.26,497.56 C297.74,497.61 298.23,497.67 298.71,497.72 C299.2,497.78 299.68,497.83 300.16,497.88 C300.65,497.94 301.13,497.99 301.62,498.05 C302.1,498.1 302.58,498.15 303.07,498.21 C303.55,498.26 304.03,498.31 304.52,498.37 C305,498.42 305.49,498.47 305.97,498.53 C306.45,498.58 306.94,498.64 307.42,498.69 C307.91,498.74 308.39,498.8 308.87,498.85 C309.36,498.9 309.84,498.96 310.32,499.01 C310.81,499.07 311.29,499.12 311.78,499.17 C312.26,499.23 312.74,499.28 313.23,499.34 C313.71,499.39 314.2,499.45 314.68,499.5 C315.16,499.56 315.65,499.61 316.13,499.67 C316.61,499.72 317.1,499.78 317.58,499.83 C318.07,499.89 318.55,499.94 319.03,500 C319.52,500.05 320,500.11 320.49,500.17 C320.97,500.22 321.45,500.28 321.94,500.34 C322.42,500.39 322.9,500.45 323.39,500.51 C323.87,500.57 324.36,500.63 324.84,500.68 C325.32,500.74 325.81,500.8 326.29,500.86 C326.77,500.92 327.26,500.98 327.74,501.04 C328.23,501.1 328.71,501.16 329.19,501.22 C329.68,501.28 330.16,501.34 330.65,501.4 C331.13,501.47 331.61,501.53 332.1,501.59 C332.58,501.65 333.06,501.72 333.55,501.78 C334.03,501.84 334.76,501.94 335,501.97" fill="none" stroke="#008000" stroke-width="2"/>
<path d="M44.7,516.6 V512.1 M102.76,516.6 V512.1 M160.82,516.6 V512.1 M218.88,516.6 V512.1 M276.94,516.6 V512.1 M335,516.6 V512.1 M73.73,516.6 V514.4 M131.79,516.6 V514.4 M189.85,516.6 V514.4 M247.91,516.6 V514.4 M305.97,516.6 V514.4 M44.7,516.6 H49.2 M44.7,474.32 H49.2 M44.7,432.04 H49.2 M44.7,389.76 H49.2 M44.7,347.48 H49.2 M44.7,305.2 H49.2 M44.7,495.46 H46.9 M44.7,453.18 H46.9 M44.7,410.9 H46.9 M44.7,368.62 H46.9 M44.7,326.34 H46.9" stroke="#111" stroke-width="1.6" fill="none"/>
<rect x="44.7" y="283.6" width="290.3" height="233" fill="none" stroke="#111" stroke-width="1.6"/>
<text x="44.7" y="534.7" font-size="16" text-anchor="middle" font-weight="normal"  class="h">0.0</text>
<text x="102.76" y="534.7" font-size="16" text-anchor="middle" font-weight="normal"  class="h">0.2</text>
<text x="160.82" y="534.7" font-size="16" text-anchor="middle" font-weight="normal"  class="h">0.4</text>
<text x="218.88" y="534.7" font-size="16" text-anchor="middle" font-weight="normal"  class="h">0.6</text>
<text x="276.94" y="534.7" font-size="16" text-anchor="middle" font-weight="normal"  class="h">0.8</text>
<text x="335" y="534.7" font-size="16" text-anchor="middle" font-weight="normal"  class="h">1.0</text>
<text x="39.8" y="521.6" font-size="16" text-anchor="end" font-weight="normal"  class="h">0</text>
<text x="39.8" y="479.32" font-size="16" text-anchor="end" font-weight="normal"  class="h">5</text>
<text x="39.8" y="437.04" font-size="16" text-anchor="end" font-weight="normal"  class="h">10</text>
<text x="39.8" y="394.76" font-size="16" text-anchor="end" font-weight="normal"  class="h">15</text>
<text x="39.8" y="352.48" font-size="16" text-anchor="end" font-weight="normal"  class="h">20</text>
<text x="39.8" y="310.2" font-size="16" text-anchor="end" font-weight="normal"  class="h">25</text>
<path d="M183.9,345.3 H208.8" stroke="#7a7080" stroke-width="2"/>
<text x="212.5" y="349.7" font-size="12" text-anchor="start" font-weight="normal" >U+N</text>
<path d="M183.9,361.1 H208.8" stroke="#8a20ee" stroke-width="2"/>
<text x="212.5" y="365.5" font-size="12" text-anchor="start" font-weight="normal" >U+N+PD</text>
<path d="M183.9,376.4 H208.8" stroke="#6464f4" stroke-width="2"/>
<text x="212.5" y="380.8" font-size="12" text-anchor="start" font-weight="normal" >U+N+PD+B</text>
<path d="M183.9,391.3 H208.8" stroke="#0a8a0a" stroke-width="2"/>
<text x="212.5" y="395.7" font-size="12" text-anchor="start" font-weight="normal" >U+N+PD+B+VA</text>
<path d="M417.8,318.12 C419.34,320.45 423.98,327.74 427.06,332.11 C430.15,336.48 433.24,340.51 436.33,344.35 C439.42,348.18 442.5,351.74 445.59,355.14 C448.68,358.53 451.77,361.7 454.86,364.72 C457.94,367.74 461.03,370.57 464.12,373.28 C467.21,375.99 470.3,378.53 473.38,380.97 C476.47,383.41 479.56,385.71 482.65,387.92 C485.74,390.13 488.82,392.21 491.91,394.22 C495,396.23 498.09,398.13 501.18,399.97 C504.26,401.8 507.35,403.54 510.44,405.22 C513.53,406.9 516.62,408.5 519.7,410.04 C522.79,411.59 525.88,413.06 528.97,414.48 C532.06,415.91 535.14,417.27 538.23,418.59 C541.32,419.9 544.41,421.17 547.5,422.39 C550.58,423.61 553.67,424.78 556.76,425.92 C559.85,427.06 562.94,428.15 566.02,429.21 C569.11,430.27 572.2,431.29 575.29,432.28 C578.38,433.27 581.46,434.22 584.55,435.15 C587.64,436.08 590.73,436.97 593.82,437.84 C596.9,438.71 599.99,439.55 603.08,440.37 C606.17,441.18 609.26,441.97 612.34,442.74 C615.43,443.51 618.52,444.26 621.61,444.98 C624.7,445.71 627.78,446.41 630.87,447.1 C633.96,447.78 637.05,448.45 640.14,449.09 C643.22,449.74 646.31,450.37 649.4,450.99 C652.49,451.6 657.12,452.48 658.66,452.78" fill="none" stroke="#4d4d4d" stroke-width="2"/>
<path d="M417.8,440.21 C419.34,440.78 423.98,442.57 427.06,443.67 C430.15,444.76 433.24,445.79 436.33,446.77 C439.42,447.76 442.5,448.69 445.59,449.58 C448.68,450.47 451.77,451.32 454.86,452.13 C457.94,452.94 461.03,453.71 464.12,454.46 C467.21,455.2 470.3,455.91 473.38,456.59 C476.47,457.27 479.56,457.92 482.65,458.56 C485.74,459.19 488.82,459.79 491.91,460.37 C495,460.96 498.09,461.52 501.18,462.06 C504.26,462.6 507.35,463.12 510.44,463.63 C513.53,464.13 516.62,464.62 519.7,465.09 C522.79,465.56 525.88,466.02 528.97,466.46 C532.06,466.9 535.14,467.33 538.23,467.74 C541.32,468.16 544.41,468.56 547.5,468.95 C550.58,469.34 553.67,469.72 556.76,470.09 C559.85,470.46 562.94,470.82 566.02,471.17 C569.11,471.51 572.2,471.85 575.29,472.18 C578.38,472.51 581.46,472.83 584.55,473.14 C587.64,473.46 590.73,473.76 593.82,474.06 C596.9,474.35 599.99,474.64 603.08,474.93 C606.17,475.21 609.26,475.48 612.34,475.75 C615.43,476.02 618.52,476.28 621.61,476.54 C624.7,476.8 627.78,477.05 630.87,477.29 C633.96,477.54 637.05,477.78 640.14,478.01 C643.22,478.25 646.31,478.47 649.4,478.7 C652.49,478.92 657.12,479.25 658.66,479.36" fill="none" stroke="#b07fe0" stroke-width="2"/>
<path d="M417.8,464.44 C419.34,464.72 423.98,465.57 427.06,466.09 C430.15,466.62 433.24,467.12 436.33,467.6 C439.42,468.08 442.5,468.53 445.59,468.97 C448.68,469.41 451.77,469.83 454.86,470.24 C457.94,470.65 461.03,471.03 464.12,471.41 C467.21,471.79 470.3,472.14 473.38,472.49 C476.47,472.84 479.56,473.18 482.65,473.5 C485.74,473.83 488.82,474.14 491.91,474.45 C495,474.75 498.09,475.04 501.18,475.33 C504.26,475.61 507.35,475.89 510.44,476.16 C513.53,476.42 516.62,476.68 519.7,476.94 C522.79,477.19 525.88,477.43 528.97,477.67 C532.06,477.91 535.14,478.14 538.23,478.37 C541.32,478.59 544.41,478.81 547.5,479.03 C550.58,479.24 553.67,479.45 556.76,479.65 C559.85,479.86 562.94,480.06 566.02,480.25 C569.11,480.44 572.2,480.63 575.29,480.82 C578.38,481 581.46,481.18 584.55,481.36 C587.64,481.53 590.73,481.71 593.82,481.87 C596.9,482.04 599.99,482.21 603.08,482.37 C606.17,482.53 609.26,482.69 612.34,482.84 C615.43,483 618.52,483.15 621.61,483.3 C624.7,483.45 627.78,483.59 630.87,483.73 C633.96,483.88 637.05,484.01 640.14,484.15 C643.22,484.29 646.31,484.42 649.4,484.56 C652.49,484.69 657.12,484.88 658.66,484.94" fill="none" stroke="#0000e8" stroke-width="2"/>
<path d="M417.8,472.36 C419.34,472.56 423.98,473.18 427.06,473.56 C430.15,473.95 433.24,474.31 436.33,474.66 C439.42,475.02 442.5,475.35 445.59,475.67 C448.68,476 451.77,476.31 454.86,476.61 C457.94,476.91 461.03,477.19 464.12,477.47 C467.21,477.75 470.3,478.02 473.38,478.28 C476.47,478.53 479.56,478.78 482.65,479.03 C485.74,479.27 488.82,479.5 491.91,479.73 C495,479.96 498.09,480.18 501.18,480.39 C504.26,480.61 507.35,480.81 510.44,481.01 C513.53,481.22 516.62,481.41 519.7,481.6 C522.79,481.79 525.88,481.98 528.97,482.16 C532.06,482.34 535.14,482.52 538.23,482.69 C541.32,482.86 544.41,483.03 547.5,483.19 C550.58,483.35 553.67,483.51 556.76,483.67 C559.85,483.82 562.94,483.97 566.02,484.12 C569.11,484.27 572.2,484.41 575.29,484.55 C578.38,484.7 581.46,484.83 584.55,484.97 C587.64,485.1 590.73,485.24 593.82,485.37 C596.9,485.5 599.99,485.62 603.08,485.75 C606.17,485.87 609.26,485.99 612.34,486.11 C615.43,486.23 618.52,486.35 621.61,486.46 C624.7,486.58 627.78,486.69 630.87,486.8 C633.96,486.91 637.05,487.02 640.14,487.13 C643.22,487.23 646.31,487.34 649.4,487.44 C652.49,487.54 657.12,487.69 658.66,487.74" fill="none" stroke="#0a800a" stroke-width="2"/>
<circle cx="417.8" cy="477.49" r="4.6" fill="url(#gball)"/>
<circle cx="428.45" cy="479.82" r="4.6" fill="url(#gball)"/>
<circle cx="451.61" cy="483.55" r="4.6" fill="url(#gball)"/>
<circle cx="474.77" cy="486.81" r="4.6" fill="url(#gball)"/>
<circle cx="497.93" cy="488.21" r="4.6" fill="url(#gball)"/>
<circle cx="521.09" cy="488.21" r="4.6" fill="url(#gball)"/>
<circle cx="544.25" cy="493.94" r="4.6" fill="url(#gball)"/>
<circle cx="567.41" cy="496.41" r="4.6" fill="url(#gball)"/>
<circle cx="590.57" cy="497.67" r="4.6" fill="url(#gball)"/>
<circle cx="613.73" cy="495.2" r="4.6" fill="url(#gball)"/>
<circle cx="636.89" cy="491.14" r="4.6" fill="url(#gball)"/>
<circle cx="660.05" cy="487.74" r="4.6" fill="url(#gball)"/>
<polygon points="405.3,364.1 414.1,364.1 414.1,404.9 418.2,404.9 409.7,413.2 401.3,404.9 405.3,404.9" fill="#d66fca"/>
<polygon points="404.2,438.1 411.8,438.1 411.8,450.3 415,450.3 408,458.3 400.9,450.3 404.2,450.3" fill="#1070c0"/>
<polygon points="403.9,460.8 411,460.8 411,471.6 414.5,471.6 407.4,479.2 400.2,471.6 403.9,471.6" fill="#3a7a28"/>
<path d="M417.8,515.7 V511.2 M464.12,515.7 V511.2 M510.44,515.7 V511.2 M556.76,515.7 V511.2 M603.08,515.7 V511.2 M649.4,515.7 V511.2 M440.96,515.7 V513.5 M487.28,515.7 V513.5 M533.6,515.7 V513.5 M579.92,515.7 V513.5 M626.24,515.7 V513.5 M672.56,515.7 V513.5 M394.5,515.7 H399 M394.5,422.7 H399 M394.5,329.7 H399 M394.5,469.2 H396.7 M394.5,376.2 H396.7 M394.5,283.2 H396.7" stroke="#111" stroke-width="1.6" fill="none"/>
<rect x="394.5" y="283.1" width="288.8" height="232.6" fill="none" stroke="#111" stroke-width="1.6"/>
<text x="417.8" y="533.7" font-size="16" text-anchor="middle" font-weight="normal"  class="h">300</text>
<text x="464.12" y="533.7" font-size="16" text-anchor="middle" font-weight="normal"  class="h">400</text>
<text x="510.44" y="533.7" font-size="16" text-anchor="middle" font-weight="normal"  class="h">500</text>
<text x="556.76" y="533.7" font-size="16" text-anchor="middle" font-weight="normal"  class="h">600</text>
<text x="603.08" y="533.7" font-size="16" text-anchor="middle" font-weight="normal"  class="h">700</text>
<text x="649.4" y="533.7" font-size="16" text-anchor="middle" font-weight="normal"  class="h">800</text>
<text x="389.6" y="520.7" font-size="16" text-anchor="end" font-weight="normal"  class="h">0</text>
<text x="389.6" y="427.7" font-size="16" text-anchor="end" font-weight="normal"  class="h">2</text>
<text x="389.6" y="334.7" font-size="16" text-anchor="end" font-weight="normal"  class="h">4</text>
<path d="M525.2,304.7 H549.3" stroke="#4d4d4d" stroke-width="2"/>
<text x="553.4" y="309.1" font-size="12" text-anchor="start" font-weight="normal" >U+N</text>
<path d="M525.2,320.2 H549.3" stroke="#b07fe0" stroke-width="2"/>
<text x="553.4" y="324.6" font-size="12" text-anchor="start" font-weight="normal" >U+N+PD</text>
<path d="M525.2,335.4 H549.3" stroke="#0000e8" stroke-width="2"/>
<text x="553.4" y="339.8" font-size="12" text-anchor="start" font-weight="normal" >U+N+PD+B</text>
<path d="M525.2,350.7 H549.3" stroke="#0a800a" stroke-width="2"/>
<text x="553.4" y="355.1" font-size="12" text-anchor="start" font-weight="normal" >U+N+PD+B+VA</text>
<circle cx="537.5" cy="366" r="4.6" fill="url(#gball)"/>
<text x="553.4" y="370.4" font-size="12" text-anchor="start" font-weight="normal" >Experiment</text>
<text x="220.5" y="24" font-size="12" font-weight="bold">(GeTe)<tspan font-size="8.5" dy="3">1-x</tspan><tspan dy="-3">(CuBiS</tspan><tspan font-size="8.5" dy="3">2</tspan><tspan dy="-3">)</tspan><tspan font-size="8.5" dy="3">x</tspan></text>
<path d="M258,40.5 H282.5" stroke="#b06fd0" stroke-width="2"/>
<rect x="266.65" y="36.75" width="7.5" height="7.5" fill="#b06fd0"/>
<text x="286" y="44.9" font-size="12" text-anchor="start" font-weight="bold" >x=0</text>
<path d="M258,55.7 H282.5" stroke="#5a84e0" stroke-width="2"/>
<polygon points="270.4,50.8 274.64,53.25 274.64,58.15 270.4,60.6 266.16,58.15 266.16,53.25" fill="#5a84e0"/>
<text x="286" y="60.1" font-size="12" text-anchor="start" font-weight="bold" >x=0.03</text>
<path d="M258,70.8 H282.5" stroke="#43b03c" stroke-width="2"/>
<polygon points="270.4,65.8 265.6,74.7 275.2,74.7" fill="#43b03c"/>
<text x="286" y="75.2" font-size="12" text-anchor="start" font-weight="bold" >x=0.05</text>
<path d="M258,86.4 H282.5" stroke="#ff0000" stroke-width="2"/>
<circle cx="270.4" cy="86.4" r="5" fill="url(#gball)"/>
<text x="286" y="90.8" font-size="12" text-anchor="start" font-weight="bold" >x=0.07</text>
<text x="9" y="22.3" font-size="28" text-anchor="start" font-weight="bold" >a</text>
<text x="359.5" y="26" font-size="28" text-anchor="start" font-weight="bold" >b</text>
<text x="9" y="300.2" font-size="28" text-anchor="start" font-weight="bold" >c</text>
<text x="359.2" y="305" font-size="28" text-anchor="start" font-weight="bold" >d</text>
<text x="182.4" y="273.9" font-size="16.5" text-anchor="middle" font-weight="normal" class="h">T (K)</text>
<text x="533.5" y="273.9" font-size="16.5" text-anchor="middle" font-weight="normal" class="h">T (K)</text>
<text x="542" y="548.9" font-size="16.5" text-anchor="middle" font-weight="normal" class="h">T (K)</text>
<text x="188.5" y="550.8" font-size="17" text-anchor="middle" class="h"><tspan font-family="Liberation Serif" font-style="italic">ω/ω</tspan><tspan font-size="11" dy="3">d</tspan></text>
<g transform="translate(21.7,122.85) rotate(-90)"><text id="yt1" font-size="16.5" text-anchor="middle" class="h"><tspan font-style="italic">κ</tspan><tspan font-size="11.5" dy="4.3" font-style="italic">T</tspan><tspan dy="-4.3"> (Wm<tspan font-size="11.5" dy="-7">-1</tspan><tspan dy="7">K</tspan><tspan font-size="11.5" dy="-7">-1</tspan><tspan dy="7">)</tspan></tspan></text><rect x="13.02" y="-8.52" width="2.47" height="3.14" fill="#fff"/><rect x="16.68" y="-8.52" width="2.23" height="3.14" fill="#fff"/><rect x="34.27" y="-8.52" width="2.47" height="3.14" fill="#fff"/><rect x="37.93" y="-8.52" width="2.23" height="3.14" fill="#fff"/></g>
<g transform="translate(372.4,126.85) rotate(-90)"><text id="yt2" font-size="16.5" text-anchor="middle" class="h"><tspan font-style="italic">κ</tspan><tspan font-size="11.5" dy="4.3" font-style="italic">L</tspan><tspan dy="-4.3"> (Wm<tspan font-size="11.5" dy="-7">-1</tspan><tspan dy="7">K</tspan><tspan font-size="11.5" dy="-7">-1</tspan><tspan dy="7">)</tspan></tspan></text><rect x="12.7" y="-8.52" width="2.47" height="3.14" fill="#fff"/><rect x="16.37" y="-8.52" width="2.23" height="3.14" fill="#fff"/><rect x="33.95" y="-8.52" width="2.47" height="3.14" fill="#fff"/><rect x="37.62" y="-8.52" width="2.23" height="3.14" fill="#fff"/></g>
<g transform="translate(372.4,392.95) rotate(-90)"><text id="yt3" font-size="16.5" text-anchor="middle" class="h"><tspan font-style="italic">κ</tspan><tspan font-size="11.5" dy="4.3" font-style="italic">L</tspan><tspan dy="-4.3"> (Wm<tspan font-size="11.5" dy="-7">-1</tspan><tspan dy="7">K</tspan><tspan font-size="11.5" dy="-7">-1</tspan><tspan dy="7">)</tspan></tspan></text><rect x="12.7" y="-8.52" width="2.47" height="3.14" fill="#fff"/><rect x="16.37" y="-8.52" width="2.23" height="3.14" fill="#fff"/><rect x="33.95" y="-8.52" width="2.47" height="3.14" fill="#fff"/><rect x="37.62" y="-8.52" width="2.23" height="3.14" fill="#fff"/></g>
<g transform="translate(15.3,406.55) rotate(-90)"><text id="yt4" font-size="16.5" text-anchor="middle" class="h"><tspan font-style="italic">κ</tspan><tspan font-size="11.5" dy="4.3">s</tspan><tspan dy="-4.3"> (10<tspan font-size="11.5" dy="-7">-2</tspan><tspan dy="7"> pWm</tspan><tspan font-size="11.5" dy="-7">-1</tspan><tspan dy="7">K</tspan><tspan font-size="11.5" dy="-7">-1</tspan><tspan dy="7">)</tspan></tspan></text><rect x="-41.81" y="-2.18" width="3.54" height="4.51" fill="#fff"/><rect x="-36.56" y="-2.18" width="3.21" height="4.51" fill="#fff"/><rect x="33.56" y="-8.52" width="2.47" height="3.14" fill="#fff"/><rect x="37.22" y="-8.52" width="2.23" height="3.14" fill="#fff"/><rect x="54.81" y="-8.52" width="2.47" height="3.14" fill="#fff"/><rect x="58.47" y="-8.52" width="2.23" height="3.14" fill="#fff"/></g>
<rect x="31.17" y="226.79" width="3.44" height="3.12" fill="#fff"/>
<rect x="36.26" y="226.79" width="3.11" height="3.12" fill="#fff"/>
<rect x="381.17" y="164.76" width="3.44" height="3.12" fill="#fff"/>
<rect x="386.26" y="164.76" width="3.11" height="3.12" fill="#fff"/>
<rect x="324.35" y="532.59" width="3.44" height="3.12" fill="#fff"/>
<rect x="329.44" y="532.59" width="3.11" height="3.12" fill="#fff"/>
<rect x="22.47" y="434.93" width="3.44" height="3.12" fill="#fff"/>
<rect x="27.57" y="434.93" width="3.11" height="3.12" fill="#fff"/>
<rect x="22.47" y="392.65" width="3.44" height="3.12" fill="#fff"/>
<rect x="27.57" y="392.65" width="3.11" height="3.12" fill="#fff"/>
</svg>
</body></html>
